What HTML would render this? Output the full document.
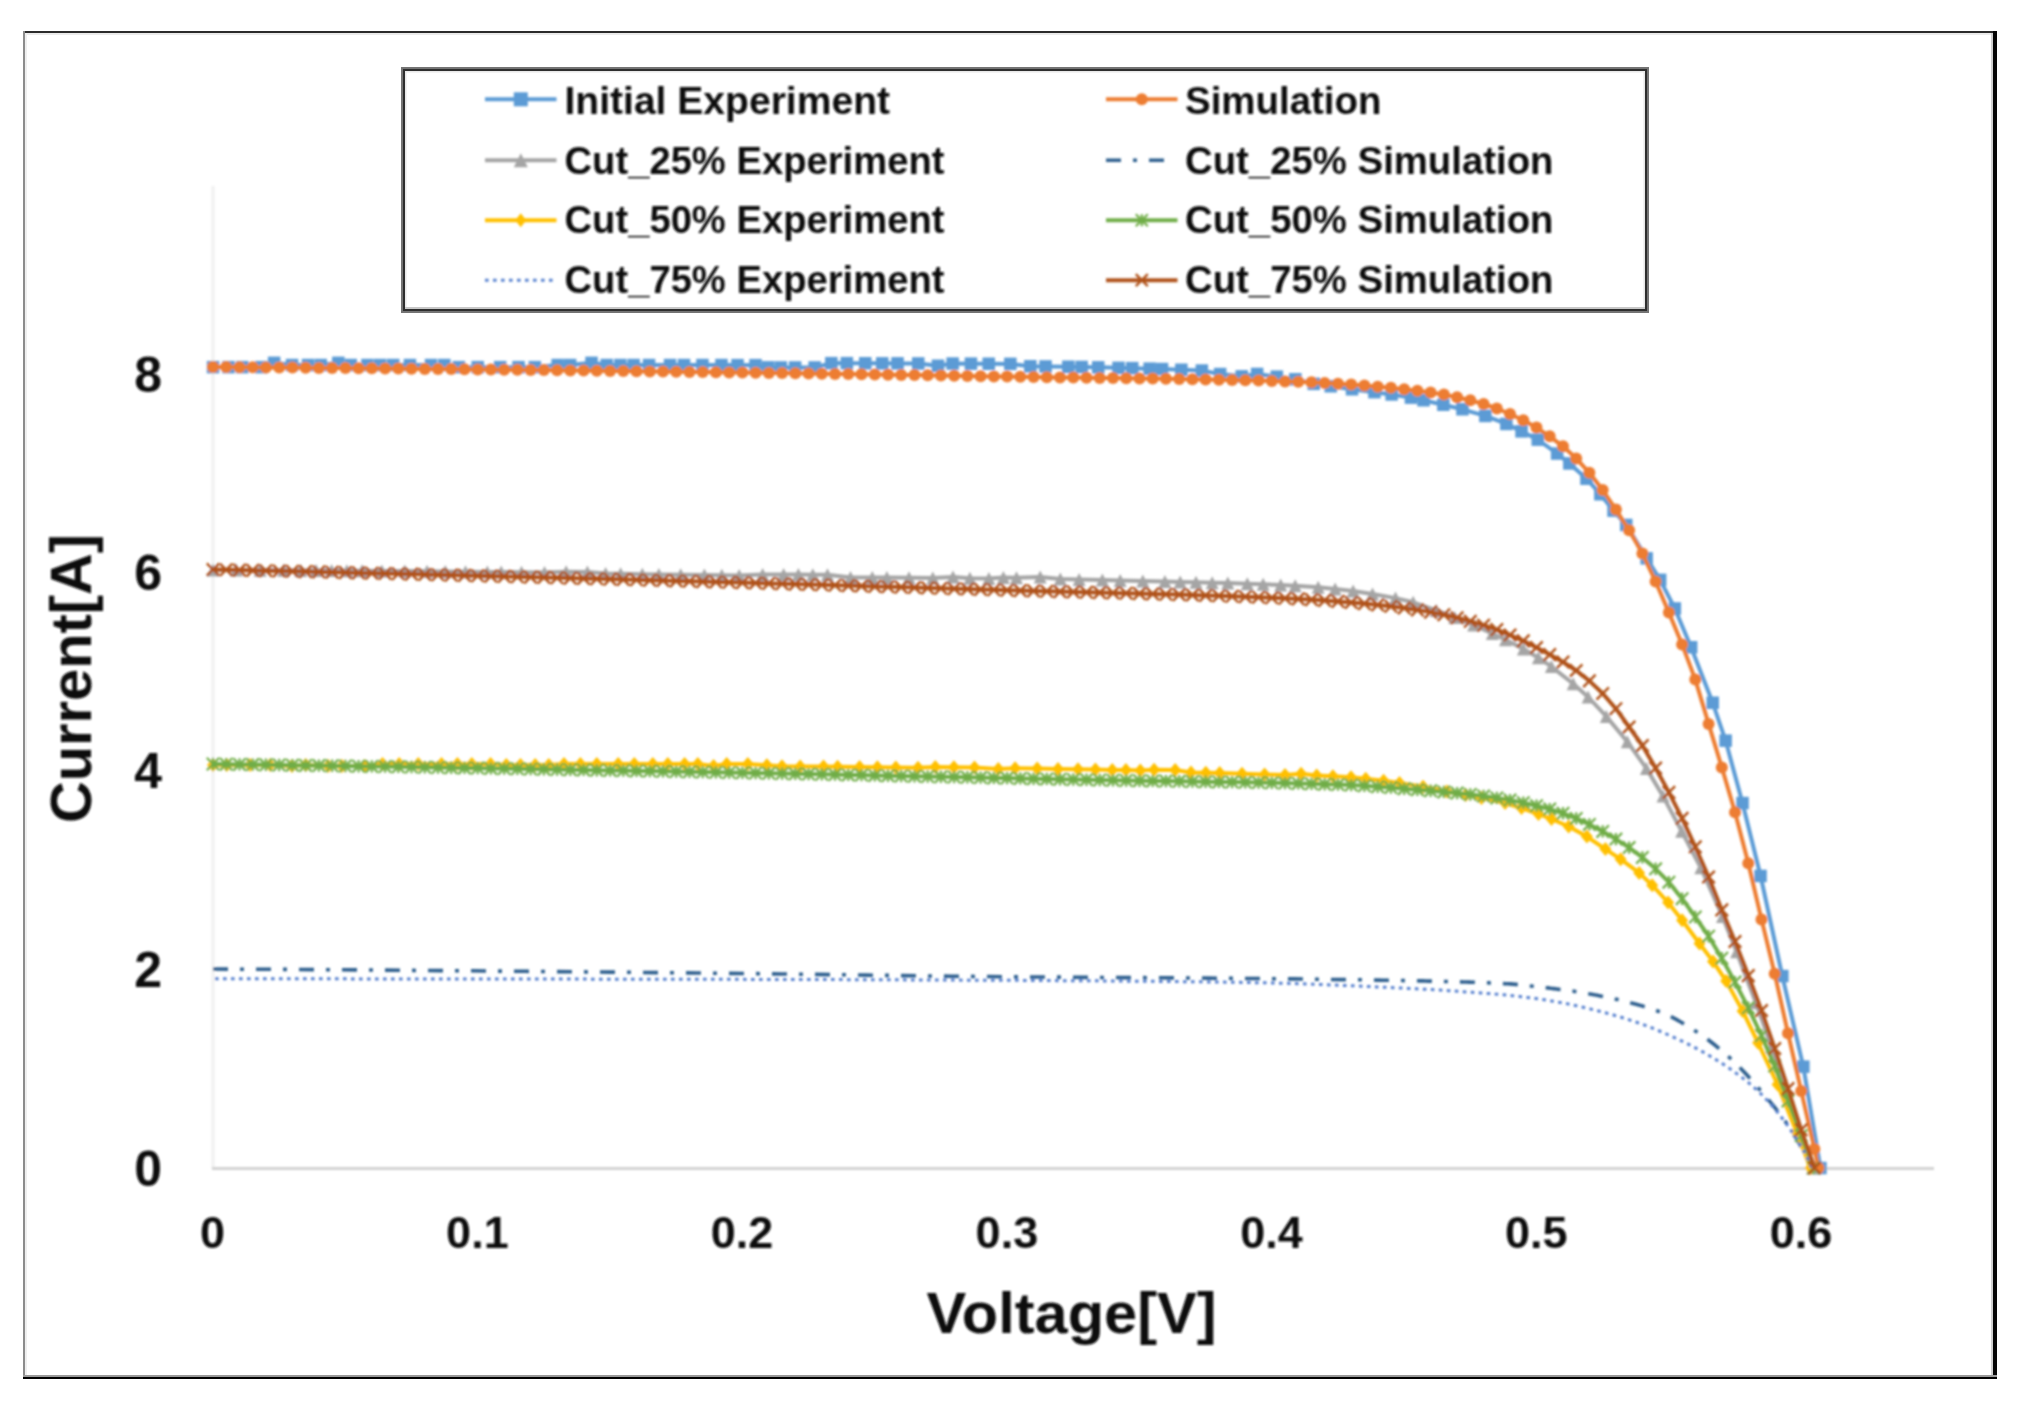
<!DOCTYPE html>
<html lang="en"><head><meta charset="utf-8"><title>I-V curves</title>
<style>html,body{margin:0;padding:0;background:#fff}svg{display:block}</style></head>
<body>
<svg width="2026" height="1408" viewBox="0 0 2026 1408">
<rect width="2026" height="1408" fill="#fff"/>
<defs><filter id="soft" x="0" y="0" width="2026" height="1408" filterUnits="userSpaceOnUse"><feGaussianBlur stdDeviation="0.8"/></filter></defs>
<g shape-rendering="crispEdges">
<rect x="23" y="31" width="1974" height="2" fill="#2b2b2b"/>
<rect x="25" y="33" width="1968" height="2" fill="#ebebeb"/>
<rect x="23" y="31" width="2" height="1348" fill="#8c8c8c"/>
<rect x="25" y="33" width="2" height="1342" fill="#efefef"/>
<rect x="1991" y="33" width="2" height="1342" fill="#d0d0d0"/>
<rect x="1993" y="31" width="4" height="1348" fill="#050505"/>
<rect x="23" y="1375" width="1974" height="2" fill="#9a9a9a"/>
<rect x="23" y="1377" width="1974" height="2" fill="#000"/>
</g>
<g filter="url(#soft)">
<rect x="211.5" y="186" width="3" height="983" fill="#f0f0f0"/>
<rect x="212" y="1167" width="1722" height="3" fill="#d2d2d2"/>
<path d="M213 367.2 L228.6 367.2 L242.2 367.2 L261.4 367.2 L274.2 362.8 L292.1 365 L308.1 365 L320.7 365 L338.3 362.8 L350.7 365 L367.5 365 L380.3 365 L393.3 365 L409.9 365 L431 365 L444.4 365 L458.8 367.2 L477.7 367.2 L500.2 367.2 L518.5 367.2 L534.9 367.2 L557.6 365 L570.1 365 L591.6 362.8 L606.8 365 L620.4 365 L633.6 365 L649 365 L670 365 L684 365 L702.4 365.1 L721.4 365.1 L737.5 365.1 L755.6 365.2 L768.2 367.4 L780.9 367.4 L795.2 367.4 L814.6 367.5 L831.4 363.1 L846.8 363.2 L865.3 363.2 L882.2 363.3 L897.5 363.4 L918.3 363.4 L938 365.7 L952.6 363.6 L971 363.7 L988.7 363.7 L1010.4 363.9 L1030.4 366.2 L1045.6 366.4 L1068.3 366.7 L1081.6 367 L1098.2 367.3 L1118.6 367.8 L1132.2 368.2 L1149.6 368.7 L1162 369.1 L1181.4 369.8 L1201.8 370.6 L1220.1 374 L1241.7 376.3 L1257.2 373.9 L1276.8 376.7 L1295.4 379.2 L1313.8 383.8 L1330.8 386.3 L1352 389.3 L1374.4 392.2 L1391.6 394.5 L1410.9 397.6 L1423.6 400.3 L1443.3 404.8 L1462.4 409.3 L1485.4 415.9 L1506.4 423.9 L1521.5 431.3 L1537.8 439.6 L1557.1 453.5 L1569.4 463.5 L1586.5 478.7 L1600.3 494.2 L1613.6 510.7 L1626.2 524.9 L1646.7 558.4 L1660.1 579.8 L1674.8 608.4 L1691.1 647.2 L1712.7 702.8 L1725.6 740.6 L1742.5 803.1 L1760.6 876 L1782.3 976 L1803.3 1066.6 L1820.5 1168" fill="none" stroke="#5B9BD5" stroke-width="4" stroke-linejoin="round"/>
<rect x="206.8" y="360.9" width="12.5" height="12.5" fill="#5B9BD5"/><rect x="222.3" y="360.9" width="12.5" height="12.5" fill="#5B9BD5"/><rect x="236" y="360.9" width="12.5" height="12.5" fill="#5B9BD5"/><rect x="255.1" y="360.9" width="12.5" height="12.5" fill="#5B9BD5"/><rect x="267.9" y="356.6" width="12.5" height="12.5" fill="#5B9BD5"/><rect x="285.8" y="358.8" width="12.5" height="12.5" fill="#5B9BD5"/><rect x="301.8" y="358.8" width="12.5" height="12.5" fill="#5B9BD5"/><rect x="314.5" y="358.8" width="12.5" height="12.5" fill="#5B9BD5"/><rect x="332.1" y="356.6" width="12.5" height="12.5" fill="#5B9BD5"/><rect x="344.5" y="358.8" width="12.5" height="12.5" fill="#5B9BD5"/><rect x="361.2" y="358.8" width="12.5" height="12.5" fill="#5B9BD5"/><rect x="374" y="358.8" width="12.5" height="12.5" fill="#5B9BD5"/><rect x="387" y="358.8" width="12.5" height="12.5" fill="#5B9BD5"/><rect x="403.7" y="358.8" width="12.5" height="12.5" fill="#5B9BD5"/><rect x="424.8" y="358.8" width="12.5" height="12.5" fill="#5B9BD5"/><rect x="438.1" y="358.8" width="12.5" height="12.5" fill="#5B9BD5"/><rect x="452.6" y="360.9" width="12.5" height="12.5" fill="#5B9BD5"/><rect x="471.5" y="360.9" width="12.5" height="12.5" fill="#5B9BD5"/><rect x="493.9" y="360.9" width="12.5" height="12.5" fill="#5B9BD5"/><rect x="512.3" y="360.9" width="12.5" height="12.5" fill="#5B9BD5"/><rect x="528.6" y="360.9" width="12.5" height="12.5" fill="#5B9BD5"/><rect x="551.4" y="358.8" width="12.5" height="12.5" fill="#5B9BD5"/><rect x="563.9" y="358.8" width="12.5" height="12.5" fill="#5B9BD5"/><rect x="585.3" y="356.6" width="12.5" height="12.5" fill="#5B9BD5"/><rect x="600.5" y="358.8" width="12.5" height="12.5" fill="#5B9BD5"/><rect x="614.1" y="358.8" width="12.5" height="12.5" fill="#5B9BD5"/><rect x="627.4" y="358.8" width="12.5" height="12.5" fill="#5B9BD5"/><rect x="642.8" y="358.8" width="12.5" height="12.5" fill="#5B9BD5"/><rect x="663.8" y="358.8" width="12.5" height="12.5" fill="#5B9BD5"/><rect x="677.8" y="358.8" width="12.5" height="12.5" fill="#5B9BD5"/><rect x="696.2" y="358.8" width="12.5" height="12.5" fill="#5B9BD5"/><rect x="715.2" y="358.8" width="12.5" height="12.5" fill="#5B9BD5"/><rect x="731.3" y="358.9" width="12.5" height="12.5" fill="#5B9BD5"/><rect x="749.3" y="358.9" width="12.5" height="12.5" fill="#5B9BD5"/><rect x="762" y="361.1" width="12.5" height="12.5" fill="#5B9BD5"/><rect x="774.6" y="361.2" width="12.5" height="12.5" fill="#5B9BD5"/><rect x="788.9" y="361.2" width="12.5" height="12.5" fill="#5B9BD5"/><rect x="808.4" y="361.2" width="12.5" height="12.5" fill="#5B9BD5"/><rect x="825.1" y="356.9" width="12.5" height="12.5" fill="#5B9BD5"/><rect x="840.6" y="356.9" width="12.5" height="12.5" fill="#5B9BD5"/><rect x="859" y="357" width="12.5" height="12.5" fill="#5B9BD5"/><rect x="876" y="357.1" width="12.5" height="12.5" fill="#5B9BD5"/><rect x="891.3" y="357.1" width="12.5" height="12.5" fill="#5B9BD5"/><rect x="912" y="357.2" width="12.5" height="12.5" fill="#5B9BD5"/><rect x="931.7" y="359.5" width="12.5" height="12.5" fill="#5B9BD5"/><rect x="946.4" y="357.3" width="12.5" height="12.5" fill="#5B9BD5"/><rect x="964.7" y="357.4" width="12.5" height="12.5" fill="#5B9BD5"/><rect x="982.5" y="357.5" width="12.5" height="12.5" fill="#5B9BD5"/><rect x="1004.1" y="357.6" width="12.5" height="12.5" fill="#5B9BD5"/><rect x="1024.1" y="360" width="12.5" height="12.5" fill="#5B9BD5"/><rect x="1039.3" y="360.2" width="12.5" height="12.5" fill="#5B9BD5"/><rect x="1062.1" y="360.5" width="12.5" height="12.5" fill="#5B9BD5"/><rect x="1075.4" y="360.7" width="12.5" height="12.5" fill="#5B9BD5"/><rect x="1092" y="361.1" width="12.5" height="12.5" fill="#5B9BD5"/><rect x="1112.3" y="361.6" width="12.5" height="12.5" fill="#5B9BD5"/><rect x="1126" y="361.9" width="12.5" height="12.5" fill="#5B9BD5"/><rect x="1143.4" y="362.4" width="12.5" height="12.5" fill="#5B9BD5"/><rect x="1155.8" y="362.8" width="12.5" height="12.5" fill="#5B9BD5"/><rect x="1175.1" y="363.5" width="12.5" height="12.5" fill="#5B9BD5"/><rect x="1195.6" y="364.3" width="12.5" height="12.5" fill="#5B9BD5"/><rect x="1213.9" y="367.8" width="12.5" height="12.5" fill="#5B9BD5"/><rect x="1235.5" y="370.1" width="12.5" height="12.5" fill="#5B9BD5"/><rect x="1250.9" y="367.7" width="12.5" height="12.5" fill="#5B9BD5"/><rect x="1270.6" y="370.4" width="12.5" height="12.5" fill="#5B9BD5"/><rect x="1289.1" y="373" width="12.5" height="12.5" fill="#5B9BD5"/><rect x="1307.5" y="377.6" width="12.5" height="12.5" fill="#5B9BD5"/><rect x="1324.5" y="380" width="12.5" height="12.5" fill="#5B9BD5"/><rect x="1345.8" y="383" width="12.5" height="12.5" fill="#5B9BD5"/><rect x="1368.2" y="385.9" width="12.5" height="12.5" fill="#5B9BD5"/><rect x="1385.4" y="388.2" width="12.5" height="12.5" fill="#5B9BD5"/><rect x="1404.7" y="391.4" width="12.5" height="12.5" fill="#5B9BD5"/><rect x="1417.3" y="394" width="12.5" height="12.5" fill="#5B9BD5"/><rect x="1437.1" y="398.5" width="12.5" height="12.5" fill="#5B9BD5"/><rect x="1456.2" y="403" width="12.5" height="12.5" fill="#5B9BD5"/><rect x="1479.1" y="409.7" width="12.5" height="12.5" fill="#5B9BD5"/><rect x="1500.1" y="417.7" width="12.5" height="12.5" fill="#5B9BD5"/><rect x="1515.3" y="425.1" width="12.5" height="12.5" fill="#5B9BD5"/><rect x="1531.5" y="433.4" width="12.5" height="12.5" fill="#5B9BD5"/><rect x="1550.9" y="447.3" width="12.5" height="12.5" fill="#5B9BD5"/><rect x="1563.1" y="457.2" width="12.5" height="12.5" fill="#5B9BD5"/><rect x="1580.2" y="472.5" width="12.5" height="12.5" fill="#5B9BD5"/><rect x="1594.1" y="488" width="12.5" height="12.5" fill="#5B9BD5"/><rect x="1607.3" y="504.4" width="12.5" height="12.5" fill="#5B9BD5"/><rect x="1620" y="518.7" width="12.5" height="12.5" fill="#5B9BD5"/><rect x="1640.4" y="552.1" width="12.5" height="12.5" fill="#5B9BD5"/><rect x="1653.9" y="573.6" width="12.5" height="12.5" fill="#5B9BD5"/><rect x="1668.6" y="602.2" width="12.5" height="12.5" fill="#5B9BD5"/><rect x="1684.9" y="641" width="12.5" height="12.5" fill="#5B9BD5"/><rect x="1706.5" y="696.5" width="12.5" height="12.5" fill="#5B9BD5"/><rect x="1719.4" y="734.4" width="12.5" height="12.5" fill="#5B9BD5"/><rect x="1736.3" y="796.8" width="12.5" height="12.5" fill="#5B9BD5"/><rect x="1754.3" y="869.7" width="12.5" height="12.5" fill="#5B9BD5"/><rect x="1776.1" y="969.8" width="12.5" height="12.5" fill="#5B9BD5"/><rect x="1797.1" y="1060.4" width="12.5" height="12.5" fill="#5B9BD5"/><rect x="1814.2" y="1161.8" width="12.5" height="12.5" fill="#5B9BD5"/>
<path d="M213 367 L226.2 367.1 L239.5 367.2 L252.7 367.3 L265.9 367.4 L279.2 367.5 L292.4 367.6 L305.6 367.7 L318.9 367.9 L332.1 368 L345.4 368.1 L358.6 368.2 L371.8 368.3 L385.1 368.5 L398.3 368.6 L411.5 368.7 L424.8 368.9 L438 369 L451.2 369.1 L464.5 369.3 L477.7 369.4 L490.9 369.6 L504.2 369.7 L517.4 369.8 L530.6 370 L543.9 370.1 L557.1 370.3 L570.3 370.4 L583.6 370.6 L596.8 370.8 L610.1 370.9 L623.3 371.1 L636.5 371.2 L649.8 371.4 L663 371.5 L676.2 371.7 L689.5 371.9 L702.7 372 L715.9 372.2 L729.2 372.4 L742.4 372.5 L755.6 372.7 L768.9 372.9 L782.1 373.1 L795.3 373.3 L808.6 373.5 L821.8 373.7 L835 373.9 L848.3 374.1 L861.5 374.3 L874.8 374.5 L888 374.7 L901.2 374.9 L914.5 375.1 L927.7 375.3 L940.9 375.5 L954.2 375.8 L967.4 376 L980.6 376.2 L993.9 376.4 L1007.1 376.6 L1020.3 376.8 L1033.6 377 L1046.8 377.2 L1060 377.4 L1073.3 377.6 L1086.5 377.7 L1099.7 377.9 L1113 378.1 L1126.2 378.3 L1139.5 378.4 L1152.7 378.6 L1165.9 378.8 L1179.2 379 L1192.4 379.3 L1205.6 379.5 L1218.9 379.8 L1232.1 380 L1245.3 380.3 L1258.6 380.6 L1271.8 381 L1285 381.4 L1298.3 381.7 L1311.5 382.2 L1324.7 382.9 L1338 383.7 L1351.2 384.6 L1364.4 385.6 L1377.7 386.7 L1390.9 387.8 L1404.2 389.2 L1417.4 390.7 L1430.6 392.6 L1443.9 394.6 L1457.1 397.2 L1470.3 400.3 L1483.6 404 L1496.8 408.5 L1510 414 L1523.3 420.3 L1536.5 427.6 L1549.7 436.3 L1563 446.3 L1576.2 458.4 L1589.4 472.8 L1602.7 490 L1615.9 509.6 L1629.1 530.3 L1642.4 553.6 L1655.6 581.5 L1668.9 612.6 L1682.1 644.4 L1695.3 679.6 L1708.6 723.9 L1721.8 767.4 L1735 812.3 L1748.3 863.2 L1761.5 919.4 L1774.7 973.8 L1788 1033.2 L1801.2 1090.9 L1814.4 1148.9 L1818.5 1168" fill="none" stroke="#ED7D31" stroke-width="4" stroke-linejoin="round"/>
<circle cx="213" cy="367" r="6" fill="#ED7D31"/><circle cx="226.2" cy="367.1" r="6" fill="#ED7D31"/><circle cx="239.5" cy="367.2" r="6" fill="#ED7D31"/><circle cx="252.7" cy="367.3" r="6" fill="#ED7D31"/><circle cx="265.9" cy="367.4" r="6" fill="#ED7D31"/><circle cx="279.2" cy="367.5" r="6" fill="#ED7D31"/><circle cx="292.4" cy="367.6" r="6" fill="#ED7D31"/><circle cx="305.6" cy="367.7" r="6" fill="#ED7D31"/><circle cx="318.9" cy="367.9" r="6" fill="#ED7D31"/><circle cx="332.1" cy="368" r="6" fill="#ED7D31"/><circle cx="345.4" cy="368.1" r="6" fill="#ED7D31"/><circle cx="358.6" cy="368.2" r="6" fill="#ED7D31"/><circle cx="371.8" cy="368.3" r="6" fill="#ED7D31"/><circle cx="385.1" cy="368.5" r="6" fill="#ED7D31"/><circle cx="398.3" cy="368.6" r="6" fill="#ED7D31"/><circle cx="411.5" cy="368.7" r="6" fill="#ED7D31"/><circle cx="424.8" cy="368.9" r="6" fill="#ED7D31"/><circle cx="438" cy="369" r="6" fill="#ED7D31"/><circle cx="451.2" cy="369.1" r="6" fill="#ED7D31"/><circle cx="464.5" cy="369.3" r="6" fill="#ED7D31"/><circle cx="477.7" cy="369.4" r="6" fill="#ED7D31"/><circle cx="490.9" cy="369.6" r="6" fill="#ED7D31"/><circle cx="504.2" cy="369.7" r="6" fill="#ED7D31"/><circle cx="517.4" cy="369.8" r="6" fill="#ED7D31"/><circle cx="530.6" cy="370" r="6" fill="#ED7D31"/><circle cx="543.9" cy="370.1" r="6" fill="#ED7D31"/><circle cx="557.1" cy="370.3" r="6" fill="#ED7D31"/><circle cx="570.3" cy="370.4" r="6" fill="#ED7D31"/><circle cx="583.6" cy="370.6" r="6" fill="#ED7D31"/><circle cx="596.8" cy="370.8" r="6" fill="#ED7D31"/><circle cx="610.1" cy="370.9" r="6" fill="#ED7D31"/><circle cx="623.3" cy="371.1" r="6" fill="#ED7D31"/><circle cx="636.5" cy="371.2" r="6" fill="#ED7D31"/><circle cx="649.8" cy="371.4" r="6" fill="#ED7D31"/><circle cx="663" cy="371.5" r="6" fill="#ED7D31"/><circle cx="676.2" cy="371.7" r="6" fill="#ED7D31"/><circle cx="689.5" cy="371.9" r="6" fill="#ED7D31"/><circle cx="702.7" cy="372" r="6" fill="#ED7D31"/><circle cx="715.9" cy="372.2" r="6" fill="#ED7D31"/><circle cx="729.2" cy="372.4" r="6" fill="#ED7D31"/><circle cx="742.4" cy="372.5" r="6" fill="#ED7D31"/><circle cx="755.6" cy="372.7" r="6" fill="#ED7D31"/><circle cx="768.9" cy="372.9" r="6" fill="#ED7D31"/><circle cx="782.1" cy="373.1" r="6" fill="#ED7D31"/><circle cx="795.3" cy="373.3" r="6" fill="#ED7D31"/><circle cx="808.6" cy="373.5" r="6" fill="#ED7D31"/><circle cx="821.8" cy="373.7" r="6" fill="#ED7D31"/><circle cx="835" cy="373.9" r="6" fill="#ED7D31"/><circle cx="848.3" cy="374.1" r="6" fill="#ED7D31"/><circle cx="861.5" cy="374.3" r="6" fill="#ED7D31"/><circle cx="874.8" cy="374.5" r="6" fill="#ED7D31"/><circle cx="888" cy="374.7" r="6" fill="#ED7D31"/><circle cx="901.2" cy="374.9" r="6" fill="#ED7D31"/><circle cx="914.5" cy="375.1" r="6" fill="#ED7D31"/><circle cx="927.7" cy="375.3" r="6" fill="#ED7D31"/><circle cx="940.9" cy="375.5" r="6" fill="#ED7D31"/><circle cx="954.2" cy="375.8" r="6" fill="#ED7D31"/><circle cx="967.4" cy="376" r="6" fill="#ED7D31"/><circle cx="980.6" cy="376.2" r="6" fill="#ED7D31"/><circle cx="993.9" cy="376.4" r="6" fill="#ED7D31"/><circle cx="1007.1" cy="376.6" r="6" fill="#ED7D31"/><circle cx="1020.3" cy="376.8" r="6" fill="#ED7D31"/><circle cx="1033.6" cy="377" r="6" fill="#ED7D31"/><circle cx="1046.8" cy="377.2" r="6" fill="#ED7D31"/><circle cx="1060" cy="377.4" r="6" fill="#ED7D31"/><circle cx="1073.3" cy="377.6" r="6" fill="#ED7D31"/><circle cx="1086.5" cy="377.7" r="6" fill="#ED7D31"/><circle cx="1099.7" cy="377.9" r="6" fill="#ED7D31"/><circle cx="1113" cy="378.1" r="6" fill="#ED7D31"/><circle cx="1126.2" cy="378.3" r="6" fill="#ED7D31"/><circle cx="1139.5" cy="378.4" r="6" fill="#ED7D31"/><circle cx="1152.7" cy="378.6" r="6" fill="#ED7D31"/><circle cx="1165.9" cy="378.8" r="6" fill="#ED7D31"/><circle cx="1179.2" cy="379" r="6" fill="#ED7D31"/><circle cx="1192.4" cy="379.3" r="6" fill="#ED7D31"/><circle cx="1205.6" cy="379.5" r="6" fill="#ED7D31"/><circle cx="1218.9" cy="379.8" r="6" fill="#ED7D31"/><circle cx="1232.1" cy="380" r="6" fill="#ED7D31"/><circle cx="1245.3" cy="380.3" r="6" fill="#ED7D31"/><circle cx="1258.6" cy="380.6" r="6" fill="#ED7D31"/><circle cx="1271.8" cy="381" r="6" fill="#ED7D31"/><circle cx="1285" cy="381.4" r="6" fill="#ED7D31"/><circle cx="1298.3" cy="381.7" r="6" fill="#ED7D31"/><circle cx="1311.5" cy="382.2" r="6" fill="#ED7D31"/><circle cx="1324.7" cy="382.9" r="6" fill="#ED7D31"/><circle cx="1338" cy="383.7" r="6" fill="#ED7D31"/><circle cx="1351.2" cy="384.6" r="6" fill="#ED7D31"/><circle cx="1364.4" cy="385.6" r="6" fill="#ED7D31"/><circle cx="1377.7" cy="386.7" r="6" fill="#ED7D31"/><circle cx="1390.9" cy="387.8" r="6" fill="#ED7D31"/><circle cx="1404.2" cy="389.2" r="6" fill="#ED7D31"/><circle cx="1417.4" cy="390.7" r="6" fill="#ED7D31"/><circle cx="1430.6" cy="392.6" r="6" fill="#ED7D31"/><circle cx="1443.9" cy="394.6" r="6" fill="#ED7D31"/><circle cx="1457.1" cy="397.2" r="6" fill="#ED7D31"/><circle cx="1470.3" cy="400.3" r="6" fill="#ED7D31"/><circle cx="1483.6" cy="404" r="6" fill="#ED7D31"/><circle cx="1496.8" cy="408.5" r="6" fill="#ED7D31"/><circle cx="1510" cy="414" r="6" fill="#ED7D31"/><circle cx="1523.3" cy="420.3" r="6" fill="#ED7D31"/><circle cx="1536.5" cy="427.6" r="6" fill="#ED7D31"/><circle cx="1549.7" cy="436.3" r="6" fill="#ED7D31"/><circle cx="1563" cy="446.3" r="6" fill="#ED7D31"/><circle cx="1576.2" cy="458.4" r="6" fill="#ED7D31"/><circle cx="1589.4" cy="472.8" r="6" fill="#ED7D31"/><circle cx="1602.7" cy="490" r="6" fill="#ED7D31"/><circle cx="1615.9" cy="509.6" r="6" fill="#ED7D31"/><circle cx="1629.1" cy="530.3" r="6" fill="#ED7D31"/><circle cx="1642.4" cy="553.6" r="6" fill="#ED7D31"/><circle cx="1655.6" cy="581.5" r="6" fill="#ED7D31"/><circle cx="1668.9" cy="612.6" r="6" fill="#ED7D31"/><circle cx="1682.1" cy="644.4" r="6" fill="#ED7D31"/><circle cx="1695.3" cy="679.6" r="6" fill="#ED7D31"/><circle cx="1708.6" cy="723.9" r="6" fill="#ED7D31"/><circle cx="1721.8" cy="767.4" r="6" fill="#ED7D31"/><circle cx="1735" cy="812.3" r="6" fill="#ED7D31"/><circle cx="1748.3" cy="863.2" r="6" fill="#ED7D31"/><circle cx="1761.5" cy="919.4" r="6" fill="#ED7D31"/><circle cx="1774.7" cy="973.8" r="6" fill="#ED7D31"/><circle cx="1788" cy="1033.2" r="6" fill="#ED7D31"/><circle cx="1801.2" cy="1090.9" r="6" fill="#ED7D31"/><circle cx="1814.4" cy="1148.9" r="6" fill="#ED7D31"/><circle cx="1818.5" cy="1168" r="6" fill="#ED7D31"/>
<path d="M213 570 L236.3 570.1 L260.2 570.2 L283.7 570.3 L300.7 570.4 L316.1 570.5 L331.6 570.6 L346.8 570.7 L362 570.8 L381.9 570.9 L404.8 571.1 L427 571.3 L445.3 571.5 L465.5 571.7 L487.3 571.9 L501.2 572 L521.5 572.2 L544.5 572.6 L566.1 571.7 L587.4 572.1 L605.6 573.6 L620.6 573.8 L642.3 574.2 L658.9 574.5 L680.7 574.8 L704.4 575 L721.8 575.2 L739.2 575.4 L762.6 574.4 L783.6 574.5 L798.4 574.6 L812.8 574.7 L827.5 574.8 L850.5 577.4 L872.3 577.5 L886.9 577.6 L909 577.8 L932.8 578 L953 576.9 L969.9 578.3 L988.9 578.6 L1003.4 577.5 L1016.5 577.8 L1040.2 577.1 L1060.3 578.9 L1079.1 579.4 L1102.4 580.1 L1120.2 580.5 L1142.8 581 L1164.9 581.5 L1180.2 581.9 L1196 582.3 L1212.2 582.7 L1227.8 583.1 L1247.3 583.7 L1263.1 584.3 L1280.7 585.1 L1295.2 585.8 L1318.2 587.2 L1335.1 588.9 L1353.1 591.1 L1372.5 594 L1395.5 598.1 L1413.1 602.3 L1436.2 610.5 L1454.7 617.4 L1473.6 625.1 L1492.3 633.5 L1505.5 639.8 L1523.4 648.9 L1538.4 657.7 L1551.4 666.6 L1573.2 683.8 L1588.1 697 L1606.3 716.4 L1627.3 741.7 L1646.4 768.4 L1663 796.1 L1681.7 831.2 L1700.8 867.7 L1722.5 916.5 L1736.6 951.8 L1755.8 1002.7 L1771.5 1046.8 L1787.6 1095.3 L1812.5 1168" fill="none" stroke="#A5A5A5" stroke-width="4" stroke-linejoin="round"/>
<path d="M213 563.5L219.5 576.5L206.5 576.5Z" fill="#A5A5A5"/><path d="M236.3 563.6L242.8 576.6L229.8 576.6Z" fill="#A5A5A5"/><path d="M260.2 563.7L266.7 576.7L253.7 576.7Z" fill="#A5A5A5"/><path d="M283.7 563.8L290.2 576.8L277.2 576.8Z" fill="#A5A5A5"/><path d="M300.7 563.9L307.2 576.9L294.2 576.9Z" fill="#A5A5A5"/><path d="M316.1 564L322.6 577L309.6 577Z" fill="#A5A5A5"/><path d="M331.6 564.1L338.1 577.1L325.1 577.1Z" fill="#A5A5A5"/><path d="M346.8 564.2L353.3 577.2L340.3 577.2Z" fill="#A5A5A5"/><path d="M362 564.3L368.5 577.3L355.5 577.3Z" fill="#A5A5A5"/><path d="M381.9 564.4L388.4 577.4L375.4 577.4Z" fill="#A5A5A5"/><path d="M404.8 564.6L411.3 577.6L398.3 577.6Z" fill="#A5A5A5"/><path d="M427 564.8L433.5 577.8L420.5 577.8Z" fill="#A5A5A5"/><path d="M445.3 565L451.8 578L438.8 578Z" fill="#A5A5A5"/><path d="M465.5 565.2L472 578.2L459 578.2Z" fill="#A5A5A5"/><path d="M487.3 565.4L493.8 578.4L480.8 578.4Z" fill="#A5A5A5"/><path d="M501.2 565.5L507.7 578.5L494.7 578.5Z" fill="#A5A5A5"/><path d="M521.5 565.7L528 578.7L515 578.7Z" fill="#A5A5A5"/><path d="M544.5 566.1L551 579.1L538 579.1Z" fill="#A5A5A5"/><path d="M566.1 565.2L572.6 578.2L559.6 578.2Z" fill="#A5A5A5"/><path d="M587.4 565.6L593.9 578.6L580.9 578.6Z" fill="#A5A5A5"/><path d="M605.6 567.1L612.1 580.1L599.1 580.1Z" fill="#A5A5A5"/><path d="M620.6 567.3L627.1 580.3L614.1 580.3Z" fill="#A5A5A5"/><path d="M642.3 567.7L648.8 580.7L635.8 580.7Z" fill="#A5A5A5"/><path d="M658.9 568L665.4 581L652.4 581Z" fill="#A5A5A5"/><path d="M680.7 568.3L687.2 581.3L674.2 581.3Z" fill="#A5A5A5"/><path d="M704.4 568.5L710.9 581.5L697.9 581.5Z" fill="#A5A5A5"/><path d="M721.8 568.7L728.3 581.7L715.3 581.7Z" fill="#A5A5A5"/><path d="M739.2 568.9L745.7 581.9L732.7 581.9Z" fill="#A5A5A5"/><path d="M762.6 567.9L769.1 580.9L756.1 580.9Z" fill="#A5A5A5"/><path d="M783.6 568L790.1 581L777.1 581Z" fill="#A5A5A5"/><path d="M798.4 568.1L804.9 581.1L791.9 581.1Z" fill="#A5A5A5"/><path d="M812.8 568.2L819.3 581.2L806.3 581.2Z" fill="#A5A5A5"/><path d="M827.5 568.3L834 581.3L821 581.3Z" fill="#A5A5A5"/><path d="M850.5 570.9L857 583.9L844 583.9Z" fill="#A5A5A5"/><path d="M872.3 571L878.8 584L865.8 584Z" fill="#A5A5A5"/><path d="M886.9 571.1L893.4 584.1L880.4 584.1Z" fill="#A5A5A5"/><path d="M909 571.3L915.5 584.3L902.5 584.3Z" fill="#A5A5A5"/><path d="M932.8 571.5L939.3 584.5L926.3 584.5Z" fill="#A5A5A5"/><path d="M953 570.4L959.5 583.4L946.5 583.4Z" fill="#A5A5A5"/><path d="M969.9 571.8L976.4 584.8L963.4 584.8Z" fill="#A5A5A5"/><path d="M988.9 572.1L995.4 585.1L982.4 585.1Z" fill="#A5A5A5"/><path d="M1003.4 571L1009.9 584L996.9 584Z" fill="#A5A5A5"/><path d="M1016.5 571.3L1023 584.3L1010 584.3Z" fill="#A5A5A5"/><path d="M1040.2 570.6L1046.7 583.6L1033.7 583.6Z" fill="#A5A5A5"/><path d="M1060.3 572.4L1066.8 585.4L1053.8 585.4Z" fill="#A5A5A5"/><path d="M1079.1 572.9L1085.6 585.9L1072.6 585.9Z" fill="#A5A5A5"/><path d="M1102.4 573.6L1108.9 586.6L1095.9 586.6Z" fill="#A5A5A5"/><path d="M1120.2 574L1126.7 587L1113.7 587Z" fill="#A5A5A5"/><path d="M1142.8 574.5L1149.3 587.5L1136.3 587.5Z" fill="#A5A5A5"/><path d="M1164.9 575L1171.4 588L1158.4 588Z" fill="#A5A5A5"/><path d="M1180.2 575.4L1186.7 588.4L1173.7 588.4Z" fill="#A5A5A5"/><path d="M1196 575.8L1202.5 588.8L1189.5 588.8Z" fill="#A5A5A5"/><path d="M1212.2 576.2L1218.7 589.2L1205.7 589.2Z" fill="#A5A5A5"/><path d="M1227.8 576.6L1234.3 589.6L1221.3 589.6Z" fill="#A5A5A5"/><path d="M1247.3 577.2L1253.8 590.2L1240.8 590.2Z" fill="#A5A5A5"/><path d="M1263.1 577.8L1269.6 590.8L1256.6 590.8Z" fill="#A5A5A5"/><path d="M1280.7 578.6L1287.2 591.6L1274.2 591.6Z" fill="#A5A5A5"/><path d="M1295.2 579.3L1301.7 592.3L1288.7 592.3Z" fill="#A5A5A5"/><path d="M1318.2 580.7L1324.7 593.7L1311.7 593.7Z" fill="#A5A5A5"/><path d="M1335.1 582.4L1341.6 595.4L1328.6 595.4Z" fill="#A5A5A5"/><path d="M1353.1 584.6L1359.6 597.6L1346.6 597.6Z" fill="#A5A5A5"/><path d="M1372.5 587.5L1379 600.5L1366 600.5Z" fill="#A5A5A5"/><path d="M1395.5 591.6L1402 604.6L1389 604.6Z" fill="#A5A5A5"/><path d="M1413.1 595.8L1419.6 608.8L1406.6 608.8Z" fill="#A5A5A5"/><path d="M1436.2 604L1442.7 617L1429.7 617Z" fill="#A5A5A5"/><path d="M1454.7 610.9L1461.2 623.9L1448.2 623.9Z" fill="#A5A5A5"/><path d="M1473.6 618.6L1480.1 631.6L1467.1 631.6Z" fill="#A5A5A5"/><path d="M1492.3 627L1498.8 640L1485.8 640Z" fill="#A5A5A5"/><path d="M1505.5 633.3L1512 646.3L1499 646.3Z" fill="#A5A5A5"/><path d="M1523.4 642.4L1529.9 655.4L1516.9 655.4Z" fill="#A5A5A5"/><path d="M1538.4 651.2L1544.9 664.2L1531.9 664.2Z" fill="#A5A5A5"/><path d="M1551.4 660.1L1557.9 673.1L1544.9 673.1Z" fill="#A5A5A5"/><path d="M1573.2 677.3L1579.7 690.3L1566.7 690.3Z" fill="#A5A5A5"/><path d="M1588.1 690.5L1594.6 703.5L1581.6 703.5Z" fill="#A5A5A5"/><path d="M1606.3 709.9L1612.8 722.9L1599.8 722.9Z" fill="#A5A5A5"/><path d="M1627.3 735.2L1633.8 748.2L1620.8 748.2Z" fill="#A5A5A5"/><path d="M1646.4 761.9L1652.9 774.9L1639.9 774.9Z" fill="#A5A5A5"/><path d="M1663 789.6L1669.5 802.6L1656.5 802.6Z" fill="#A5A5A5"/><path d="M1681.7 824.7L1688.2 837.7L1675.2 837.7Z" fill="#A5A5A5"/><path d="M1700.8 861.2L1707.3 874.2L1694.3 874.2Z" fill="#A5A5A5"/><path d="M1722.5 910L1729 923L1716 923Z" fill="#A5A5A5"/><path d="M1736.6 945.3L1743.1 958.3L1730.1 958.3Z" fill="#A5A5A5"/><path d="M1755.8 996.2L1762.3 1009.2L1749.3 1009.2Z" fill="#A5A5A5"/><path d="M1771.5 1040.3L1778 1053.3L1765 1053.3Z" fill="#A5A5A5"/><path d="M1787.6 1088.8L1794.1 1101.8L1781.1 1101.8Z" fill="#A5A5A5"/><path d="M1812.5 1161.5L1819 1174.5L1806 1174.5Z" fill="#A5A5A5"/>
<path d="M213 969 L241.4 969.2 L269.9 969.3 L298.3 969.5 L326.7 969.7 L355.1 969.9 L383.6 970.1 L412 970.4 L440.4 970.6 L468.8 970.8 L497.2 971.1 L525.7 971.3 L554.1 971.6 L582.5 971.9 L611 972.1 L639.4 972.4 L667.8 972.7 L696.2 973 L724.7 973.3 L753.1 973.6 L781.5 974 L809.9 974.3 L838.4 974.7 L866.8 975.1 L895.2 975.5 L923.6 975.9 L952.1 976.2 L980.5 976.5 L1008.9 976.8 L1037.3 977 L1065.8 977.2 L1094.2 977.4 L1122.6 977.6 L1151 977.7 L1179.5 977.9 L1207.9 978.1 L1236.3 978.4 L1264.7 978.6 L1293.2 978.9 L1321.6 979.3 L1350 979.7 L1352.9 979.7 L1355.8 979.8 L1358.7 979.8 L1361.6 979.8 L1364.5 979.9 L1367.5 979.9 L1370.4 980 L1373.3 980 L1376.2 980.1 L1379.1 980.1 L1382 980.2 L1384.9 980.2 L1387.8 980.3 L1390.7 980.3 L1393.6 980.4 L1396.5 980.4 L1399.4 980.5 L1402.4 980.5 L1405.3 980.6 L1408.2 980.7 L1411.1 980.7 L1414 980.8 L1416.9 980.8 L1419.8 980.9 L1422.7 980.9 L1425.6 981 L1428.5 981.1 L1431.4 981.1 L1434.4 981.2 L1437.3 981.3 L1440.2 981.3 L1443.1 981.4 L1446 981.5 L1448.9 981.5 L1451.8 981.6 L1454.7 981.7 L1457.6 981.8 L1460.5 981.9 L1463.4 982 L1466.4 982 L1469.3 982.1 L1472.2 982.2 L1475.1 982.3 L1478 982.4 L1480.9 982.6 L1483.8 982.7 L1486.7 982.8 L1489.6 982.9 L1492.5 983 L1495.4 983.2 L1498.3 983.3 L1501.3 983.4 L1504.2 983.6 L1507.1 983.7 L1510 983.9 L1512.9 984.1 L1515.8 984.4 L1518.7 984.7 L1521.6 985 L1524.5 985.3 L1527.4 985.7 L1530.3 986 L1533.3 986.3 L1536.2 986.6 L1539.1 987 L1542 987.3 L1544.9 987.6 L1547.8 987.9 L1550.7 988.3 L1553.6 988.6 L1556.5 989 L1559.4 989.4 L1562.3 989.7 L1565.3 990.1 L1568.2 990.5 L1571.1 990.9 L1574 991.3 L1576.9 991.8 L1579.8 992.2 L1582.7 992.7 L1585.6 993.2 L1588.5 993.7 L1591.4 994.2 L1594.3 994.8 L1597.2 995.3 L1600.2 995.9 L1603.1 996.5 L1606 997.1 L1608.9 997.7 L1611.8 998.3 L1614.7 998.9 L1617.6 999.6 L1620.5 1000.3 L1623.4 1001 L1626.3 1001.7 L1629.2 1002.4 L1632.2 1003.2 L1635.1 1003.9 L1638 1004.7 L1640.9 1005.6 L1643.8 1006.4 L1646.7 1007.3 L1649.6 1008.2 L1652.5 1009.2 L1655.4 1010.2 L1658.3 1011.3 L1661.2 1012.4 L1664.2 1013.6 L1667.1 1014.9 L1670 1016.3 L1672.9 1017.7 L1675.8 1019.2 L1678.7 1020.8 L1681.6 1022.5 L1684.5 1024.2 L1687.4 1025.9 L1690.3 1027.7 L1693.2 1029.5 L1696.1 1031.4 L1699.1 1033.3 L1702 1035.3 L1704.9 1037.3 L1707.8 1039.5 L1710.7 1041.7 L1713.6 1044 L1716.5 1046.3 L1719.4 1048.8 L1722.3 1051.2 L1725.2 1053.8 L1728.1 1056.4 L1731.1 1059 L1734 1061.7 L1736.9 1064.5 L1739.8 1067.5 L1742.7 1070.5 L1745.6 1073.6 L1748.5 1076.8 L1751.4 1080 L1754.3 1083.3 L1757.2 1086.7 L1760.1 1090 L1763.1 1093.4 L1766 1096.8 L1768.9 1100.3 L1771.8 1103.8 L1774.7 1107.4 L1777.6 1111.1 L1780.5 1114.9 L1783.4 1118.8 L1786.3 1122.8 L1789.2 1127.1 L1792.1 1131.5 L1795 1136.2 L1798 1141.2 L1800.9 1146.3 L1803.8 1151.6 L1806.7 1156.9 L1809.6 1162.3 L1812.5 1168" fill="none" stroke="#2E5F8E" stroke-width="3.6" stroke-dasharray="15 12 4 12"/>
<path d="M213 765 L226.8 765 L250.1 765 L270.1 765 L291.9 766 L305.8 765 L328.3 766 L342 766 L364.5 766 L382.5 764 L399.2 764 L418.3 764 L441.5 764 L457.4 764 L471.8 764 L490.6 764 L506.3 765 L520.5 765 L535.2 765 L548.8 765 L564 764 L580.4 764 L596.8 764 L618.2 764 L634.3 764 L652.8 764 L667.8 764 L684.6 764 L697.8 764 L713.6 766 L726.7 764 L747.8 764.1 L766.9 765.2 L782 766.3 L800.2 766.4 L823.5 766.6 L837.6 766.8 L859.6 767 L877.4 767.2 L895.8 767.4 L918 767.7 L935.3 767 L953.9 767.3 L974.5 767.6 L998.3 769 L1015.1 768.2 L1037.2 768.6 L1058 769 L1078 769.3 L1095.4 769.6 L1112.3 769.9 L1125.9 770.1 L1140.3 770.4 L1154.1 769.7 L1175.2 770.1 L1191 772.4 L1205.8 772.8 L1219.7 773.1 L1242 773.7 L1264.6 774.4 L1285 775.1 L1301.1 773.8 L1316.7 775.5 L1332.9 776.2 L1351 777.3 L1365.7 778.7 L1383.6 780.8 L1399.5 782.9 L1423.1 786.8 L1446.8 791.4 L1465.8 795.1 L1481.5 797.9 L1505.1 803.1 L1521.5 808 L1538.5 814 L1551.5 819 L1568.7 826.5 L1586.9 836.6 L1605.4 849.1 L1620.6 859.2 L1639.2 872.9 L1652.2 885.2 L1668.1 902.5 L1682.1 920.2 L1699.5 943.5 L1713 961.4 L1726.2 981.1 L1742.6 1010.9 L1758.1 1042.8 L1777.6 1084.5 L1796.4 1131.6 L1810.5 1168" fill="none" stroke="#FFC000" stroke-width="4" stroke-linejoin="round"/>
<path d="M213 758L219 765L213 772L207 765Z" fill="#FFC000"/><path d="M226.8 758L232.8 765L226.8 772L220.8 765Z" fill="#FFC000"/><path d="M250.1 758L256.1 765L250.1 772L244.1 765Z" fill="#FFC000"/><path d="M270.1 758L276.1 765L270.1 772L264.1 765Z" fill="#FFC000"/><path d="M291.9 759L297.9 766L291.9 773L285.9 766Z" fill="#FFC000"/><path d="M305.8 758L311.8 765L305.8 772L299.8 765Z" fill="#FFC000"/><path d="M328.3 759L334.3 766L328.3 773L322.3 766Z" fill="#FFC000"/><path d="M342 759L348 766L342 773L336 766Z" fill="#FFC000"/><path d="M364.5 759L370.5 766L364.5 773L358.5 766Z" fill="#FFC000"/><path d="M382.5 757L388.5 764L382.5 771L376.5 764Z" fill="#FFC000"/><path d="M399.2 757L405.2 764L399.2 771L393.2 764Z" fill="#FFC000"/><path d="M418.3 757L424.3 764L418.3 771L412.3 764Z" fill="#FFC000"/><path d="M441.5 757L447.5 764L441.5 771L435.5 764Z" fill="#FFC000"/><path d="M457.4 757L463.4 764L457.4 771L451.4 764Z" fill="#FFC000"/><path d="M471.8 757L477.8 764L471.8 771L465.8 764Z" fill="#FFC000"/><path d="M490.6 757L496.6 764L490.6 771L484.6 764Z" fill="#FFC000"/><path d="M506.3 758L512.3 765L506.3 772L500.3 765Z" fill="#FFC000"/><path d="M520.5 758L526.5 765L520.5 772L514.5 765Z" fill="#FFC000"/><path d="M535.2 758L541.2 765L535.2 772L529.2 765Z" fill="#FFC000"/><path d="M548.8 758L554.8 765L548.8 772L542.8 765Z" fill="#FFC000"/><path d="M564 757L570 764L564 771L558 764Z" fill="#FFC000"/><path d="M580.4 757L586.4 764L580.4 771L574.4 764Z" fill="#FFC000"/><path d="M596.8 757L602.8 764L596.8 771L590.8 764Z" fill="#FFC000"/><path d="M618.2 757L624.2 764L618.2 771L612.2 764Z" fill="#FFC000"/><path d="M634.3 757L640.3 764L634.3 771L628.3 764Z" fill="#FFC000"/><path d="M652.8 757L658.8 764L652.8 771L646.8 764Z" fill="#FFC000"/><path d="M667.8 757L673.8 764L667.8 771L661.8 764Z" fill="#FFC000"/><path d="M684.6 757L690.6 764L684.6 771L678.6 764Z" fill="#FFC000"/><path d="M697.8 757L703.8 764L697.8 771L691.8 764Z" fill="#FFC000"/><path d="M713.6 759L719.6 766L713.6 773L707.6 766Z" fill="#FFC000"/><path d="M726.7 757L732.7 764L726.7 771L720.7 764Z" fill="#FFC000"/><path d="M747.8 757.1L753.8 764.1L747.8 771.1L741.8 764.1Z" fill="#FFC000"/><path d="M766.9 758.2L772.9 765.2L766.9 772.2L760.9 765.2Z" fill="#FFC000"/><path d="M782 759.3L788 766.3L782 773.3L776 766.3Z" fill="#FFC000"/><path d="M800.2 759.4L806.2 766.4L800.2 773.4L794.2 766.4Z" fill="#FFC000"/><path d="M823.5 759.6L829.5 766.6L823.5 773.6L817.5 766.6Z" fill="#FFC000"/><path d="M837.6 759.8L843.6 766.8L837.6 773.8L831.6 766.8Z" fill="#FFC000"/><path d="M859.6 760L865.6 767L859.6 774L853.6 767Z" fill="#FFC000"/><path d="M877.4 760.2L883.4 767.2L877.4 774.2L871.4 767.2Z" fill="#FFC000"/><path d="M895.8 760.4L901.8 767.4L895.8 774.4L889.8 767.4Z" fill="#FFC000"/><path d="M918 760.7L924 767.7L918 774.7L912 767.7Z" fill="#FFC000"/><path d="M935.3 760L941.3 767L935.3 774L929.3 767Z" fill="#FFC000"/><path d="M953.9 760.3L959.9 767.3L953.9 774.3L947.9 767.3Z" fill="#FFC000"/><path d="M974.5 760.6L980.5 767.6L974.5 774.6L968.5 767.6Z" fill="#FFC000"/><path d="M998.3 762L1004.3 769L998.3 776L992.3 769Z" fill="#FFC000"/><path d="M1015.1 761.2L1021.1 768.2L1015.1 775.2L1009.1 768.2Z" fill="#FFC000"/><path d="M1037.2 761.6L1043.2 768.6L1037.2 775.6L1031.2 768.6Z" fill="#FFC000"/><path d="M1058 762L1064 769L1058 776L1052 769Z" fill="#FFC000"/><path d="M1078 762.3L1084 769.3L1078 776.3L1072 769.3Z" fill="#FFC000"/><path d="M1095.4 762.6L1101.4 769.6L1095.4 776.6L1089.4 769.6Z" fill="#FFC000"/><path d="M1112.3 762.9L1118.3 769.9L1112.3 776.9L1106.3 769.9Z" fill="#FFC000"/><path d="M1125.9 763.1L1131.9 770.1L1125.9 777.1L1119.9 770.1Z" fill="#FFC000"/><path d="M1140.3 763.4L1146.3 770.4L1140.3 777.4L1134.3 770.4Z" fill="#FFC000"/><path d="M1154.1 762.7L1160.1 769.7L1154.1 776.7L1148.1 769.7Z" fill="#FFC000"/><path d="M1175.2 763.1L1181.2 770.1L1175.2 777.1L1169.2 770.1Z" fill="#FFC000"/><path d="M1191 765.4L1197 772.4L1191 779.4L1185 772.4Z" fill="#FFC000"/><path d="M1205.8 765.8L1211.8 772.8L1205.8 779.8L1199.8 772.8Z" fill="#FFC000"/><path d="M1219.7 766.1L1225.7 773.1L1219.7 780.1L1213.7 773.1Z" fill="#FFC000"/><path d="M1242 766.7L1248 773.7L1242 780.7L1236 773.7Z" fill="#FFC000"/><path d="M1264.6 767.4L1270.6 774.4L1264.6 781.4L1258.6 774.4Z" fill="#FFC000"/><path d="M1285 768.1L1291 775.1L1285 782.1L1279 775.1Z" fill="#FFC000"/><path d="M1301.1 766.8L1307.1 773.8L1301.1 780.8L1295.1 773.8Z" fill="#FFC000"/><path d="M1316.7 768.5L1322.7 775.5L1316.7 782.5L1310.7 775.5Z" fill="#FFC000"/><path d="M1332.9 769.2L1338.9 776.2L1332.9 783.2L1326.9 776.2Z" fill="#FFC000"/><path d="M1351 770.3L1357 777.3L1351 784.3L1345 777.3Z" fill="#FFC000"/><path d="M1365.7 771.7L1371.7 778.7L1365.7 785.7L1359.7 778.7Z" fill="#FFC000"/><path d="M1383.6 773.8L1389.6 780.8L1383.6 787.8L1377.6 780.8Z" fill="#FFC000"/><path d="M1399.5 775.9L1405.5 782.9L1399.5 789.9L1393.5 782.9Z" fill="#FFC000"/><path d="M1423.1 779.8L1429.1 786.8L1423.1 793.8L1417.1 786.8Z" fill="#FFC000"/><path d="M1446.8 784.4L1452.8 791.4L1446.8 798.4L1440.8 791.4Z" fill="#FFC000"/><path d="M1465.8 788.1L1471.8 795.1L1465.8 802.1L1459.8 795.1Z" fill="#FFC000"/><path d="M1481.5 790.9L1487.5 797.9L1481.5 804.9L1475.5 797.9Z" fill="#FFC000"/><path d="M1505.1 796.1L1511.1 803.1L1505.1 810.1L1499.1 803.1Z" fill="#FFC000"/><path d="M1521.5 801L1527.5 808L1521.5 815L1515.5 808Z" fill="#FFC000"/><path d="M1538.5 807L1544.5 814L1538.5 821L1532.5 814Z" fill="#FFC000"/><path d="M1551.5 812L1557.5 819L1551.5 826L1545.5 819Z" fill="#FFC000"/><path d="M1568.7 819.5L1574.7 826.5L1568.7 833.5L1562.7 826.5Z" fill="#FFC000"/><path d="M1586.9 829.6L1592.9 836.6L1586.9 843.6L1580.9 836.6Z" fill="#FFC000"/><path d="M1605.4 842.1L1611.4 849.1L1605.4 856.1L1599.4 849.1Z" fill="#FFC000"/><path d="M1620.6 852.2L1626.6 859.2L1620.6 866.2L1614.6 859.2Z" fill="#FFC000"/><path d="M1639.2 865.9L1645.2 872.9L1639.2 879.9L1633.2 872.9Z" fill="#FFC000"/><path d="M1652.2 878.2L1658.2 885.2L1652.2 892.2L1646.2 885.2Z" fill="#FFC000"/><path d="M1668.1 895.5L1674.1 902.5L1668.1 909.5L1662.1 902.5Z" fill="#FFC000"/><path d="M1682.1 913.2L1688.1 920.2L1682.1 927.2L1676.1 920.2Z" fill="#FFC000"/><path d="M1699.5 936.5L1705.5 943.5L1699.5 950.5L1693.5 943.5Z" fill="#FFC000"/><path d="M1713 954.4L1719 961.4L1713 968.4L1707 961.4Z" fill="#FFC000"/><path d="M1726.2 974.1L1732.2 981.1L1726.2 988.1L1720.2 981.1Z" fill="#FFC000"/><path d="M1742.6 1003.9L1748.6 1010.9L1742.6 1017.9L1736.6 1010.9Z" fill="#FFC000"/><path d="M1758.1 1035.8L1764.1 1042.8L1758.1 1049.8L1752.1 1042.8Z" fill="#FFC000"/><path d="M1777.6 1077.5L1783.6 1084.5L1777.6 1091.5L1771.6 1084.5Z" fill="#FFC000"/><path d="M1796.4 1124.6L1802.4 1131.6L1796.4 1138.6L1790.4 1131.6Z" fill="#FFC000"/><path d="M1810.5 1161L1816.5 1168L1810.5 1175L1804.5 1168Z" fill="#FFC000"/>
<path d="M213 764 L226.2 764.2 L239.5 764.4 L252.7 764.6 L265.9 764.8 L279.2 765 L292.4 765.2 L305.6 765.4 L318.9 765.6 L332.1 765.8 L345.4 766 L358.6 766.2 L371.8 766.4 L385.1 766.6 L398.3 766.8 L411.5 767 L424.8 767.3 L438 767.5 L451.2 767.7 L464.5 767.9 L477.7 768.1 L490.9 768.4 L504.2 768.6 L517.4 768.8 L530.6 769 L543.9 769.2 L557.1 769.5 L570.3 769.7 L583.6 769.9 L596.8 770.2 L610.1 770.4 L623.3 770.6 L636.5 770.9 L649.8 771.1 L663 771.3 L676.2 771.6 L689.5 771.8 L702.7 772 L715.9 772.3 L729.2 772.5 L742.4 772.8 L755.6 773 L768.9 773.3 L782.1 773.5 L795.3 773.8 L808.6 774.1 L821.8 774.3 L835 774.6 L848.3 774.9 L861.5 775.1 L874.8 775.4 L888 775.7 L901.2 776 L914.5 776.2 L927.7 776.5 L940.9 776.8 L954.2 777 L967.4 777.3 L980.6 777.6 L993.9 777.9 L1007.1 778.1 L1020.3 778.4 L1033.6 778.7 L1046.8 778.9 L1060 779.2 L1073.3 779.5 L1086.5 779.7 L1099.7 780 L1113 780.2 L1126.2 780.5 L1139.5 780.7 L1152.7 780.9 L1165.9 781.1 L1179.2 781.3 L1192.4 781.5 L1205.6 781.7 L1218.9 781.9 L1232.1 782.1 L1245.3 782.3 L1258.6 782.6 L1271.8 782.8 L1285 783.1 L1298.3 783.4 L1311.5 783.8 L1324.7 784.2 L1338 784.6 L1351.2 785.1 L1364.4 785.8 L1377.7 786.7 L1390.9 787.6 L1404.2 788.7 L1417.4 789.7 L1430.6 790.8 L1443.9 791.9 L1457.1 793.1 L1470.3 794.5 L1483.6 796 L1496.8 797.9 L1510 800.1 L1523.3 802.7 L1536.5 805.7 L1549.7 809.1 L1563 813.3 L1576.2 818.4 L1589.4 824.4 L1602.7 831.4 L1615.9 839.1 L1629.1 847.6 L1642.4 857.4 L1655.6 868.8 L1668.9 882.2 L1682.1 898.7 L1695.3 917 L1708.6 936.2 L1721.8 958.2 L1735 982.1 L1748.3 1007.8 L1761.5 1035.5 L1774.7 1066.1 L1788 1100.9 L1801.2 1135.6 L1813.5 1168" fill="none" stroke="#70AD47" stroke-width="4" stroke-linejoin="round"/>
<path d="M206.8 757.8L219.2 770.2M206.8 770.2L219.2 757.8M213 757.8L213 770.2" stroke="#70AD47" stroke-width="2.2" fill="none"/><path d="M220 758L232.4 770.4M220 770.4L232.4 758M226.2 758L226.2 770.4" stroke="#70AD47" stroke-width="2.2" fill="none"/><path d="M233.3 758.2L245.7 770.6M233.3 770.6L245.7 758.2M239.5 758.2L239.5 770.6" stroke="#70AD47" stroke-width="2.2" fill="none"/><path d="M246.5 758.4L258.9 770.8M246.5 770.8L258.9 758.4M252.7 758.4L252.7 770.8" stroke="#70AD47" stroke-width="2.2" fill="none"/><path d="M259.7 758.6L272.1 771M259.7 771L272.1 758.6M265.9 758.6L265.9 771" stroke="#70AD47" stroke-width="2.2" fill="none"/><path d="M273 758.8L285.4 771.2M273 771.2L285.4 758.8M279.2 758.8L279.2 771.2" stroke="#70AD47" stroke-width="2.2" fill="none"/><path d="M286.2 759L298.6 771.4M286.2 771.4L298.6 759M292.4 759L292.4 771.4" stroke="#70AD47" stroke-width="2.2" fill="none"/><path d="M299.4 759.2L311.8 771.6M299.4 771.6L311.8 759.2M305.6 759.2L305.6 771.6" stroke="#70AD47" stroke-width="2.2" fill="none"/><path d="M312.7 759.4L325.1 771.8M312.7 771.8L325.1 759.4M318.9 759.4L318.9 771.8" stroke="#70AD47" stroke-width="2.2" fill="none"/><path d="M325.9 759.6L338.3 772M325.9 772L338.3 759.6M332.1 759.6L332.1 772" stroke="#70AD47" stroke-width="2.2" fill="none"/><path d="M339.2 759.8L351.6 772.2M339.2 772.2L351.6 759.8M345.4 759.8L345.4 772.2" stroke="#70AD47" stroke-width="2.2" fill="none"/><path d="M352.4 760L364.8 772.4M352.4 772.4L364.8 760M358.6 760L358.6 772.4" stroke="#70AD47" stroke-width="2.2" fill="none"/><path d="M365.6 760.2L378 772.6M365.6 772.6L378 760.2M371.8 760.2L371.8 772.6" stroke="#70AD47" stroke-width="2.2" fill="none"/><path d="M378.9 760.4L391.3 772.8M378.9 772.8L391.3 760.4M385.1 760.4L385.1 772.8" stroke="#70AD47" stroke-width="2.2" fill="none"/><path d="M392.1 760.6L404.5 773M392.1 773L404.5 760.6M398.3 760.6L398.3 773" stroke="#70AD47" stroke-width="2.2" fill="none"/><path d="M405.3 760.8L417.7 773.2M405.3 773.2L417.7 760.8M411.5 760.8L411.5 773.2" stroke="#70AD47" stroke-width="2.2" fill="none"/><path d="M418.6 761.1L431 773.5M418.6 773.5L431 761.1M424.8 761.1L424.8 773.5" stroke="#70AD47" stroke-width="2.2" fill="none"/><path d="M431.8 761.3L444.2 773.7M431.8 773.7L444.2 761.3M438 761.3L438 773.7" stroke="#70AD47" stroke-width="2.2" fill="none"/><path d="M445 761.5L457.4 773.9M445 773.9L457.4 761.5M451.2 761.5L451.2 773.9" stroke="#70AD47" stroke-width="2.2" fill="none"/><path d="M458.3 761.7L470.7 774.1M458.3 774.1L470.7 761.7M464.5 761.7L464.5 774.1" stroke="#70AD47" stroke-width="2.2" fill="none"/><path d="M471.5 761.9L483.9 774.3M471.5 774.3L483.9 761.9M477.7 761.9L477.7 774.3" stroke="#70AD47" stroke-width="2.2" fill="none"/><path d="M484.7 762.2L497.1 774.6M484.7 774.6L497.1 762.2M490.9 762.2L490.9 774.6" stroke="#70AD47" stroke-width="2.2" fill="none"/><path d="M498 762.4L510.4 774.8M498 774.8L510.4 762.4M504.2 762.4L504.2 774.8" stroke="#70AD47" stroke-width="2.2" fill="none"/><path d="M511.2 762.6L523.6 775M511.2 775L523.6 762.6M517.4 762.6L517.4 775" stroke="#70AD47" stroke-width="2.2" fill="none"/><path d="M524.4 762.8L536.8 775.2M524.4 775.2L536.8 762.8M530.6 762.8L530.6 775.2" stroke="#70AD47" stroke-width="2.2" fill="none"/><path d="M537.7 763L550.1 775.4M537.7 775.4L550.1 763M543.9 763L543.9 775.4" stroke="#70AD47" stroke-width="2.2" fill="none"/><path d="M550.9 763.3L563.3 775.7M550.9 775.7L563.3 763.3M557.1 763.3L557.1 775.7" stroke="#70AD47" stroke-width="2.2" fill="none"/><path d="M564.1 763.5L576.5 775.9M564.1 775.9L576.5 763.5M570.3 763.5L570.3 775.9" stroke="#70AD47" stroke-width="2.2" fill="none"/><path d="M577.4 763.7L589.8 776.1M577.4 776.1L589.8 763.7M583.6 763.7L583.6 776.1" stroke="#70AD47" stroke-width="2.2" fill="none"/><path d="M590.6 764L603 776.4M590.6 776.4L603 764M596.8 764L596.8 776.4" stroke="#70AD47" stroke-width="2.2" fill="none"/><path d="M603.9 764.2L616.3 776.6M603.9 776.6L616.3 764.2M610.1 764.2L610.1 776.6" stroke="#70AD47" stroke-width="2.2" fill="none"/><path d="M617.1 764.4L629.5 776.8M617.1 776.8L629.5 764.4M623.3 764.4L623.3 776.8" stroke="#70AD47" stroke-width="2.2" fill="none"/><path d="M630.3 764.7L642.7 777.1M630.3 777.1L642.7 764.7M636.5 764.7L636.5 777.1" stroke="#70AD47" stroke-width="2.2" fill="none"/><path d="M643.6 764.9L656 777.3M643.6 777.3L656 764.9M649.8 764.9L649.8 777.3" stroke="#70AD47" stroke-width="2.2" fill="none"/><path d="M656.8 765.1L669.2 777.5M656.8 777.5L669.2 765.1M663 765.1L663 777.5" stroke="#70AD47" stroke-width="2.2" fill="none"/><path d="M670 765.4L682.4 777.8M670 777.8L682.4 765.4M676.2 765.4L676.2 777.8" stroke="#70AD47" stroke-width="2.2" fill="none"/><path d="M683.3 765.6L695.7 778M683.3 778L695.7 765.6M689.5 765.6L689.5 778" stroke="#70AD47" stroke-width="2.2" fill="none"/><path d="M696.5 765.8L708.9 778.2M696.5 778.2L708.9 765.8M702.7 765.8L702.7 778.2" stroke="#70AD47" stroke-width="2.2" fill="none"/><path d="M709.7 766.1L722.1 778.5M709.7 778.5L722.1 766.1M715.9 766.1L715.9 778.5" stroke="#70AD47" stroke-width="2.2" fill="none"/><path d="M723 766.3L735.4 778.7M723 778.7L735.4 766.3M729.2 766.3L729.2 778.7" stroke="#70AD47" stroke-width="2.2" fill="none"/><path d="M736.2 766.6L748.6 779M736.2 779L748.6 766.6M742.4 766.6L742.4 779" stroke="#70AD47" stroke-width="2.2" fill="none"/><path d="M749.4 766.8L761.8 779.2M749.4 779.2L761.8 766.8M755.6 766.8L755.6 779.2" stroke="#70AD47" stroke-width="2.2" fill="none"/><path d="M762.7 767.1L775.1 779.5M762.7 779.5L775.1 767.1M768.9 767.1L768.9 779.5" stroke="#70AD47" stroke-width="2.2" fill="none"/><path d="M775.9 767.3L788.3 779.7M775.9 779.7L788.3 767.3M782.1 767.3L782.1 779.7" stroke="#70AD47" stroke-width="2.2" fill="none"/><path d="M789.1 767.6L801.5 780M789.1 780L801.5 767.6M795.3 767.6L795.3 780" stroke="#70AD47" stroke-width="2.2" fill="none"/><path d="M802.4 767.9L814.8 780.3M802.4 780.3L814.8 767.9M808.6 767.9L808.6 780.3" stroke="#70AD47" stroke-width="2.2" fill="none"/><path d="M815.6 768.1L828 780.5M815.6 780.5L828 768.1M821.8 768.1L821.8 780.5" stroke="#70AD47" stroke-width="2.2" fill="none"/><path d="M828.8 768.4L841.2 780.8M828.8 780.8L841.2 768.4M835 768.4L835 780.8" stroke="#70AD47" stroke-width="2.2" fill="none"/><path d="M842.1 768.7L854.5 781.1M842.1 781.1L854.5 768.7M848.3 768.7L848.3 781.1" stroke="#70AD47" stroke-width="2.2" fill="none"/><path d="M855.3 768.9L867.7 781.3M855.3 781.3L867.7 768.9M861.5 768.9L861.5 781.3" stroke="#70AD47" stroke-width="2.2" fill="none"/><path d="M868.6 769.2L881 781.6M868.6 781.6L881 769.2M874.8 769.2L874.8 781.6" stroke="#70AD47" stroke-width="2.2" fill="none"/><path d="M881.8 769.5L894.2 781.9M881.8 781.9L894.2 769.5M888 769.5L888 781.9" stroke="#70AD47" stroke-width="2.2" fill="none"/><path d="M895 769.8L907.4 782.2M895 782.2L907.4 769.8M901.2 769.8L901.2 782.2" stroke="#70AD47" stroke-width="2.2" fill="none"/><path d="M908.3 770L920.7 782.4M908.3 782.4L920.7 770M914.5 770L914.5 782.4" stroke="#70AD47" stroke-width="2.2" fill="none"/><path d="M921.5 770.3L933.9 782.7M921.5 782.7L933.9 770.3M927.7 770.3L927.7 782.7" stroke="#70AD47" stroke-width="2.2" fill="none"/><path d="M934.7 770.6L947.1 783M934.7 783L947.1 770.6M940.9 770.6L940.9 783" stroke="#70AD47" stroke-width="2.2" fill="none"/><path d="M948 770.8L960.4 783.2M948 783.2L960.4 770.8M954.2 770.8L954.2 783.2" stroke="#70AD47" stroke-width="2.2" fill="none"/><path d="M961.2 771.1L973.6 783.5M961.2 783.5L973.6 771.1M967.4 771.1L967.4 783.5" stroke="#70AD47" stroke-width="2.2" fill="none"/><path d="M974.4 771.4L986.8 783.8M974.4 783.8L986.8 771.4M980.6 771.4L980.6 783.8" stroke="#70AD47" stroke-width="2.2" fill="none"/><path d="M987.7 771.7L1000.1 784.1M987.7 784.1L1000.1 771.7M993.9 771.7L993.9 784.1" stroke="#70AD47" stroke-width="2.2" fill="none"/><path d="M1000.9 771.9L1013.3 784.3M1000.9 784.3L1013.3 771.9M1007.1 771.9L1007.1 784.3" stroke="#70AD47" stroke-width="2.2" fill="none"/><path d="M1014.1 772.2L1026.5 784.6M1014.1 784.6L1026.5 772.2M1020.3 772.2L1020.3 784.6" stroke="#70AD47" stroke-width="2.2" fill="none"/><path d="M1027.4 772.5L1039.8 784.9M1027.4 784.9L1039.8 772.5M1033.6 772.5L1033.6 784.9" stroke="#70AD47" stroke-width="2.2" fill="none"/><path d="M1040.6 772.7L1053 785.1M1040.6 785.1L1053 772.7M1046.8 772.7L1046.8 785.1" stroke="#70AD47" stroke-width="2.2" fill="none"/><path d="M1053.8 773L1066.2 785.4M1053.8 785.4L1066.2 773M1060 773L1060 785.4" stroke="#70AD47" stroke-width="2.2" fill="none"/><path d="M1067.1 773.3L1079.5 785.7M1067.1 785.7L1079.5 773.3M1073.3 773.3L1073.3 785.7" stroke="#70AD47" stroke-width="2.2" fill="none"/><path d="M1080.3 773.5L1092.7 785.9M1080.3 785.9L1092.7 773.5M1086.5 773.5L1086.5 785.9" stroke="#70AD47" stroke-width="2.2" fill="none"/><path d="M1093.5 773.8L1105.9 786.2M1093.5 786.2L1105.9 773.8M1099.7 773.8L1099.7 786.2" stroke="#70AD47" stroke-width="2.2" fill="none"/><path d="M1106.8 774L1119.2 786.4M1106.8 786.4L1119.2 774M1113 774L1113 786.4" stroke="#70AD47" stroke-width="2.2" fill="none"/><path d="M1120 774.3L1132.4 786.7M1120 786.7L1132.4 774.3M1126.2 774.3L1126.2 786.7" stroke="#70AD47" stroke-width="2.2" fill="none"/><path d="M1133.3 774.5L1145.7 786.9M1133.3 786.9L1145.7 774.5M1139.5 774.5L1139.5 786.9" stroke="#70AD47" stroke-width="2.2" fill="none"/><path d="M1146.5 774.7L1158.9 787.1M1146.5 787.1L1158.9 774.7M1152.7 774.7L1152.7 787.1" stroke="#70AD47" stroke-width="2.2" fill="none"/><path d="M1159.7 774.9L1172.1 787.3M1159.7 787.3L1172.1 774.9M1165.9 774.9L1165.9 787.3" stroke="#70AD47" stroke-width="2.2" fill="none"/><path d="M1173 775.1L1185.4 787.5M1173 787.5L1185.4 775.1M1179.2 775.1L1179.2 787.5" stroke="#70AD47" stroke-width="2.2" fill="none"/><path d="M1186.2 775.3L1198.6 787.7M1186.2 787.7L1198.6 775.3M1192.4 775.3L1192.4 787.7" stroke="#70AD47" stroke-width="2.2" fill="none"/><path d="M1199.4 775.5L1211.8 787.9M1199.4 787.9L1211.8 775.5M1205.6 775.5L1205.6 787.9" stroke="#70AD47" stroke-width="2.2" fill="none"/><path d="M1212.7 775.7L1225.1 788.1M1212.7 788.1L1225.1 775.7M1218.9 775.7L1218.9 788.1" stroke="#70AD47" stroke-width="2.2" fill="none"/><path d="M1225.9 775.9L1238.3 788.3M1225.9 788.3L1238.3 775.9M1232.1 775.9L1232.1 788.3" stroke="#70AD47" stroke-width="2.2" fill="none"/><path d="M1239.1 776.1L1251.5 788.5M1239.1 788.5L1251.5 776.1M1245.3 776.1L1245.3 788.5" stroke="#70AD47" stroke-width="2.2" fill="none"/><path d="M1252.4 776.4L1264.8 788.8M1252.4 788.8L1264.8 776.4M1258.6 776.4L1258.6 788.8" stroke="#70AD47" stroke-width="2.2" fill="none"/><path d="M1265.6 776.6L1278 789M1265.6 789L1278 776.6M1271.8 776.6L1271.8 789" stroke="#70AD47" stroke-width="2.2" fill="none"/><path d="M1278.8 776.9L1291.2 789.3M1278.8 789.3L1291.2 776.9M1285 776.9L1285 789.3" stroke="#70AD47" stroke-width="2.2" fill="none"/><path d="M1292.1 777.2L1304.5 789.6M1292.1 789.6L1304.5 777.2M1298.3 777.2L1298.3 789.6" stroke="#70AD47" stroke-width="2.2" fill="none"/><path d="M1305.3 777.6L1317.7 790M1305.3 790L1317.7 777.6M1311.5 777.6L1311.5 790" stroke="#70AD47" stroke-width="2.2" fill="none"/><path d="M1318.5 778L1330.9 790.4M1318.5 790.4L1330.9 778M1324.7 778L1324.7 790.4" stroke="#70AD47" stroke-width="2.2" fill="none"/><path d="M1331.8 778.4L1344.2 790.8M1331.8 790.8L1344.2 778.4M1338 778.4L1338 790.8" stroke="#70AD47" stroke-width="2.2" fill="none"/><path d="M1345 778.9L1357.4 791.3M1345 791.3L1357.4 778.9M1351.2 778.9L1351.2 791.3" stroke="#70AD47" stroke-width="2.2" fill="none"/><path d="M1358.2 779.6L1370.6 792M1358.2 792L1370.6 779.6M1364.4 779.6L1364.4 792" stroke="#70AD47" stroke-width="2.2" fill="none"/><path d="M1371.5 780.5L1383.9 792.9M1371.5 792.9L1383.9 780.5M1377.7 780.5L1377.7 792.9" stroke="#70AD47" stroke-width="2.2" fill="none"/><path d="M1384.7 781.4L1397.1 793.8M1384.7 793.8L1397.1 781.4M1390.9 781.4L1390.9 793.8" stroke="#70AD47" stroke-width="2.2" fill="none"/><path d="M1398 782.5L1410.4 794.9M1398 794.9L1410.4 782.5M1404.2 782.5L1404.2 794.9" stroke="#70AD47" stroke-width="2.2" fill="none"/><path d="M1411.2 783.5L1423.6 795.9M1411.2 795.9L1423.6 783.5M1417.4 783.5L1417.4 795.9" stroke="#70AD47" stroke-width="2.2" fill="none"/><path d="M1424.4 784.6L1436.8 797M1424.4 797L1436.8 784.6M1430.6 784.6L1430.6 797" stroke="#70AD47" stroke-width="2.2" fill="none"/><path d="M1437.7 785.7L1450.1 798.1M1437.7 798.1L1450.1 785.7M1443.9 785.7L1443.9 798.1" stroke="#70AD47" stroke-width="2.2" fill="none"/><path d="M1450.9 786.9L1463.3 799.3M1450.9 799.3L1463.3 786.9M1457.1 786.9L1457.1 799.3" stroke="#70AD47" stroke-width="2.2" fill="none"/><path d="M1464.1 788.3L1476.5 800.7M1464.1 800.7L1476.5 788.3M1470.3 788.3L1470.3 800.7" stroke="#70AD47" stroke-width="2.2" fill="none"/><path d="M1477.4 789.8L1489.8 802.2M1477.4 802.2L1489.8 789.8M1483.6 789.8L1483.6 802.2" stroke="#70AD47" stroke-width="2.2" fill="none"/><path d="M1490.6 791.7L1503 804.1M1490.6 804.1L1503 791.7M1496.8 791.7L1496.8 804.1" stroke="#70AD47" stroke-width="2.2" fill="none"/><path d="M1503.8 793.9L1516.2 806.3M1503.8 806.3L1516.2 793.9M1510 793.9L1510 806.3" stroke="#70AD47" stroke-width="2.2" fill="none"/><path d="M1517.1 796.5L1529.5 808.9M1517.1 808.9L1529.5 796.5M1523.3 796.5L1523.3 808.9" stroke="#70AD47" stroke-width="2.2" fill="none"/><path d="M1530.3 799.5L1542.7 811.9M1530.3 811.9L1542.7 799.5M1536.5 799.5L1536.5 811.9" stroke="#70AD47" stroke-width="2.2" fill="none"/><path d="M1543.5 802.9L1555.9 815.3M1543.5 815.3L1555.9 802.9M1549.7 802.9L1549.7 815.3" stroke="#70AD47" stroke-width="2.2" fill="none"/><path d="M1556.8 807.1L1569.2 819.5M1556.8 819.5L1569.2 807.1M1563 807.1L1563 819.5" stroke="#70AD47" stroke-width="2.2" fill="none"/><path d="M1570 812.2L1582.4 824.6M1570 824.6L1582.4 812.2M1576.2 812.2L1576.2 824.6" stroke="#70AD47" stroke-width="2.2" fill="none"/><path d="M1583.2 818.2L1595.6 830.6M1583.2 830.6L1595.6 818.2M1589.4 818.2L1589.4 830.6" stroke="#70AD47" stroke-width="2.2" fill="none"/><path d="M1596.5 825.2L1608.9 837.6M1596.5 837.6L1608.9 825.2M1602.7 825.2L1602.7 837.6" stroke="#70AD47" stroke-width="2.2" fill="none"/><path d="M1609.7 832.9L1622.1 845.3M1609.7 845.3L1622.1 832.9M1615.9 832.9L1615.9 845.3" stroke="#70AD47" stroke-width="2.2" fill="none"/><path d="M1622.9 841.4L1635.3 853.8M1622.9 853.8L1635.3 841.4M1629.1 841.4L1629.1 853.8" stroke="#70AD47" stroke-width="2.2" fill="none"/><path d="M1636.2 851.2L1648.6 863.6M1636.2 863.6L1648.6 851.2M1642.4 851.2L1642.4 863.6" stroke="#70AD47" stroke-width="2.2" fill="none"/><path d="M1649.4 862.6L1661.8 875M1649.4 875L1661.8 862.6M1655.6 862.6L1655.6 875" stroke="#70AD47" stroke-width="2.2" fill="none"/><path d="M1662.7 876L1675.1 888.4M1662.7 888.4L1675.1 876M1668.9 876L1668.9 888.4" stroke="#70AD47" stroke-width="2.2" fill="none"/><path d="M1675.9 892.5L1688.3 904.9M1675.9 904.9L1688.3 892.5M1682.1 892.5L1682.1 904.9" stroke="#70AD47" stroke-width="2.2" fill="none"/><path d="M1689.1 910.8L1701.5 923.2M1689.1 923.2L1701.5 910.8M1695.3 910.8L1695.3 923.2" stroke="#70AD47" stroke-width="2.2" fill="none"/><path d="M1702.4 930L1714.8 942.4M1702.4 942.4L1714.8 930M1708.6 930L1708.6 942.4" stroke="#70AD47" stroke-width="2.2" fill="none"/><path d="M1715.6 952L1728 964.4M1715.6 964.4L1728 952M1721.8 952L1721.8 964.4" stroke="#70AD47" stroke-width="2.2" fill="none"/><path d="M1728.8 975.9L1741.2 988.3M1728.8 988.3L1741.2 975.9M1735 975.9L1735 988.3" stroke="#70AD47" stroke-width="2.2" fill="none"/><path d="M1742.1 1001.6L1754.5 1014M1742.1 1014L1754.5 1001.6M1748.3 1001.6L1748.3 1014" stroke="#70AD47" stroke-width="2.2" fill="none"/><path d="M1755.3 1029.3L1767.7 1041.7M1755.3 1041.7L1767.7 1029.3M1761.5 1029.3L1761.5 1041.7" stroke="#70AD47" stroke-width="2.2" fill="none"/><path d="M1768.5 1059.9L1780.9 1072.3M1768.5 1072.3L1780.9 1059.9M1774.7 1059.9L1774.7 1072.3" stroke="#70AD47" stroke-width="2.2" fill="none"/><path d="M1781.8 1094.7L1794.2 1107.1M1781.8 1107.1L1794.2 1094.7M1788 1094.7L1788 1107.1" stroke="#70AD47" stroke-width="2.2" fill="none"/><path d="M1795 1129.4L1807.4 1141.8M1795 1141.8L1807.4 1129.4M1801.2 1129.4L1801.2 1141.8" stroke="#70AD47" stroke-width="2.2" fill="none"/><path d="M1807.3 1161.8L1819.7 1174.2M1807.3 1174.2L1819.7 1161.8M1813.5 1161.8L1813.5 1174.2" stroke="#70AD47" stroke-width="2.2" fill="none"/>
<path d="M213 978.8 L241.4 978.8 L269.9 978.8 L298.3 978.8 L326.7 978.8 L355.1 978.9 L383.6 978.9 L412 978.9 L440.4 978.9 L468.8 979 L497.2 979 L525.7 979 L554.1 979.1 L582.5 979.1 L611 979.2 L639.4 979.2 L667.8 979.2 L696.2 979.3 L724.7 979.3 L753.1 979.4 L781.5 979.5 L809.9 979.6 L838.4 979.6 L866.8 979.7 L895.2 979.8 L923.6 980 L952.1 980.1 L980.5 980.2 L1008.9 980.3 L1037.3 980.5 L1065.8 980.7 L1094.2 980.8 L1122.6 981.1 L1151 981.3 L1179.5 981.6 L1207.9 981.9 L1236.3 982.3 L1264.7 982.8 L1293.2 983.5 L1321.6 984.5 L1350 985.7 L1352.9 985.8 L1355.8 985.9 L1358.7 986.1 L1361.6 986.2 L1364.5 986.3 L1367.4 986.5 L1370.3 986.6 L1373.2 986.7 L1376.1 986.9 L1379 987 L1381.9 987.1 L1384.8 987.3 L1387.7 987.4 L1390.6 987.6 L1393.5 987.7 L1396.4 987.8 L1399.3 988 L1402.2 988.1 L1405.1 988.2 L1408.1 988.4 L1411 988.5 L1413.9 988.7 L1416.8 988.8 L1419.7 989 L1422.6 989.2 L1425.5 989.3 L1428.4 989.5 L1431.3 989.6 L1434.2 989.8 L1437.1 990 L1440 990.1 L1442.9 990.3 L1445.8 990.5 L1448.7 990.7 L1451.6 990.9 L1454.5 991.1 L1457.4 991.3 L1460.3 991.5 L1463.2 991.7 L1466.1 991.9 L1469 992.1 L1471.9 992.3 L1474.8 992.5 L1477.7 992.7 L1480.6 992.9 L1483.5 993.1 L1486.4 993.4 L1489.3 993.6 L1492.2 993.8 L1495.1 994.1 L1498 994.3 L1500.9 994.6 L1503.8 994.8 L1506.7 995.1 L1509.6 995.4 L1512.5 995.7 L1515.4 996 L1518.3 996.3 L1521.2 996.7 L1524.2 997 L1527.1 997.4 L1530 997.8 L1532.9 998.1 L1535.8 998.5 L1538.7 998.9 L1541.6 999.4 L1544.5 999.8 L1547.4 1000.3 L1550.3 1000.8 L1553.2 1001.2 L1556.1 1001.7 L1559 1002.3 L1561.9 1002.8 L1564.8 1003.3 L1567.7 1003.9 L1570.6 1004.5 L1573.5 1005.1 L1576.4 1005.7 L1579.3 1006.3 L1582.2 1007 L1585.1 1007.7 L1588 1008.4 L1590.9 1009.1 L1593.8 1009.8 L1596.7 1010.5 L1599.6 1011.3 L1602.5 1012.1 L1605.4 1012.8 L1608.3 1013.6 L1611.2 1014.4 L1614.1 1015.2 L1617 1016.1 L1619.9 1016.9 L1622.8 1017.8 L1625.7 1018.7 L1628.6 1019.6 L1631.5 1020.6 L1634.4 1021.5 L1637.3 1022.5 L1640.3 1023.5 L1643.2 1024.6 L1646.1 1025.7 L1649 1026.8 L1651.9 1027.9 L1654.8 1029.1 L1657.7 1030.3 L1660.6 1031.5 L1663.5 1032.7 L1666.4 1034 L1669.3 1035.3 L1672.2 1036.6 L1675.1 1037.9 L1678 1039.2 L1680.9 1040.6 L1683.8 1042 L1686.7 1043.4 L1689.6 1044.9 L1692.5 1046.4 L1695.4 1047.9 L1698.3 1049.4 L1701.2 1051 L1704.1 1052.6 L1707 1054.3 L1709.9 1056 L1712.8 1057.7 L1715.7 1059.5 L1718.6 1061.3 L1721.5 1063.1 L1724.4 1065 L1727.3 1067 L1730.2 1068.9 L1733.1 1071 L1736 1073.1 L1738.9 1075.2 L1741.8 1077.4 L1744.7 1079.6 L1747.6 1081.9 L1750.5 1084.4 L1753.4 1086.9 L1756.4 1089.5 L1759.3 1092.2 L1762.2 1095.1 L1765.1 1098.1 L1768 1101.2 L1770.9 1104.5 L1773.8 1107.8 L1776.7 1111.3 L1779.6 1115 L1782.5 1118.7 L1785.4 1122.6 L1788.3 1126.5 L1791.2 1130.7 L1794.1 1135 L1797 1139.5 L1799.9 1144.3 L1802.8 1149.3 L1805.7 1154.7 L1808.6 1160.8 L1811.5 1168" fill="none" stroke="#5680CF" stroke-width="3" stroke-dasharray="3.6 4.4" stroke-dashoffset="-2"/>
<path d="M213 569.5 L226.2 569.8 L239.5 570.1 L252.7 570.4 L265.9 570.7 L279.2 571 L292.4 571.3 L305.6 571.6 L318.9 571.9 L332.1 572.2 L345.4 572.6 L358.6 572.9 L371.8 573.2 L385.1 573.5 L398.3 573.8 L411.5 574.1 L424.8 574.5 L438 574.8 L451.2 575.1 L464.5 575.4 L477.7 575.8 L490.9 576.1 L504.2 576.4 L517.4 576.8 L530.6 577.1 L543.9 577.4 L557.1 577.8 L570.3 578.1 L583.6 578.5 L596.8 578.8 L610.1 579.1 L623.3 579.5 L636.5 579.8 L649.8 580.2 L663 580.5 L676.2 580.9 L689.5 581.2 L702.7 581.6 L715.9 581.9 L729.2 582.3 L742.4 582.6 L755.6 583 L768.9 583.4 L782.1 583.7 L795.3 584.1 L808.6 584.5 L821.8 584.8 L835 585.2 L848.3 585.6 L861.5 586 L874.8 586.4 L888 586.7 L901.2 587.1 L914.5 587.5 L927.7 587.9 L940.9 588.3 L954.2 588.7 L967.4 589 L980.6 589.4 L993.9 589.8 L1007.1 590.2 L1020.3 590.6 L1033.6 590.9 L1046.8 591.3 L1060 591.6 L1073.3 591.9 L1086.5 592.3 L1099.7 592.6 L1113 592.9 L1126.2 593.2 L1139.5 593.6 L1152.7 593.9 L1165.9 594.3 L1179.2 594.6 L1192.4 595 L1205.6 595.4 L1218.9 595.8 L1232.1 596.3 L1245.3 596.7 L1258.6 597.2 L1271.8 597.8 L1285 598.3 L1298.3 598.9 L1311.5 599.6 L1324.7 600.4 L1338 601.4 L1351.2 602.5 L1364.4 603.6 L1377.7 604.9 L1390.9 606.3 L1404.2 608 L1417.4 609.9 L1430.6 612.1 L1443.9 614.7 L1457.1 617.8 L1470.3 621.3 L1483.6 625.2 L1496.8 629.6 L1510 635 L1523.3 640.9 L1536.5 647.5 L1549.7 654.6 L1563 662 L1576.2 670.5 L1589.4 680.9 L1602.7 693.5 L1615.9 708.7 L1629.1 727 L1642.4 745.5 L1655.6 768 L1668.9 792.4 L1682.1 818.3 L1695.3 846.8 L1708.6 877 L1721.8 909.9 L1735 941.5 L1748.3 975.6 L1761.5 1010.5 L1774.7 1048.5 L1788 1088.6 L1801.2 1129.8 L1814.5 1168" fill="none" stroke="#B0521A" stroke-width="4" stroke-linejoin="round"/>
<path d="M206.8 563.3L219.2 575.7M206.8 575.7L219.2 563.3" stroke="#B0521A" stroke-width="2.4" fill="none"/><path d="M220 563.6L232.4 576M220 576L232.4 563.6" stroke="#B0521A" stroke-width="2.4" fill="none"/><path d="M233.3 563.9L245.7 576.3M233.3 576.3L245.7 563.9" stroke="#B0521A" stroke-width="2.4" fill="none"/><path d="M246.5 564.2L258.9 576.6M246.5 576.6L258.9 564.2" stroke="#B0521A" stroke-width="2.4" fill="none"/><path d="M259.7 564.5L272.1 576.9M259.7 576.9L272.1 564.5" stroke="#B0521A" stroke-width="2.4" fill="none"/><path d="M273 564.8L285.4 577.2M273 577.2L285.4 564.8" stroke="#B0521A" stroke-width="2.4" fill="none"/><path d="M286.2 565.1L298.6 577.5M286.2 577.5L298.6 565.1" stroke="#B0521A" stroke-width="2.4" fill="none"/><path d="M299.4 565.4L311.8 577.8M299.4 577.8L311.8 565.4" stroke="#B0521A" stroke-width="2.4" fill="none"/><path d="M312.7 565.7L325.1 578.1M312.7 578.1L325.1 565.7" stroke="#B0521A" stroke-width="2.4" fill="none"/><path d="M325.9 566L338.3 578.4M325.9 578.4L338.3 566" stroke="#B0521A" stroke-width="2.4" fill="none"/><path d="M339.2 566.4L351.6 578.8M339.2 578.8L351.6 566.4" stroke="#B0521A" stroke-width="2.4" fill="none"/><path d="M352.4 566.7L364.8 579.1M352.4 579.1L364.8 566.7" stroke="#B0521A" stroke-width="2.4" fill="none"/><path d="M365.6 567L378 579.4M365.6 579.4L378 567" stroke="#B0521A" stroke-width="2.4" fill="none"/><path d="M378.9 567.3L391.3 579.7M378.9 579.7L391.3 567.3" stroke="#B0521A" stroke-width="2.4" fill="none"/><path d="M392.1 567.6L404.5 580M392.1 580L404.5 567.6" stroke="#B0521A" stroke-width="2.4" fill="none"/><path d="M405.3 567.9L417.7 580.3M405.3 580.3L417.7 567.9" stroke="#B0521A" stroke-width="2.4" fill="none"/><path d="M418.6 568.3L431 580.7M418.6 580.7L431 568.3" stroke="#B0521A" stroke-width="2.4" fill="none"/><path d="M431.8 568.6L444.2 581M431.8 581L444.2 568.6" stroke="#B0521A" stroke-width="2.4" fill="none"/><path d="M445 568.9L457.4 581.3M445 581.3L457.4 568.9" stroke="#B0521A" stroke-width="2.4" fill="none"/><path d="M458.3 569.2L470.7 581.6M458.3 581.6L470.7 569.2" stroke="#B0521A" stroke-width="2.4" fill="none"/><path d="M471.5 569.6L483.9 582M471.5 582L483.9 569.6" stroke="#B0521A" stroke-width="2.4" fill="none"/><path d="M484.7 569.9L497.1 582.3M484.7 582.3L497.1 569.9" stroke="#B0521A" stroke-width="2.4" fill="none"/><path d="M498 570.2L510.4 582.6M498 582.6L510.4 570.2" stroke="#B0521A" stroke-width="2.4" fill="none"/><path d="M511.2 570.6L523.6 583M511.2 583L523.6 570.6" stroke="#B0521A" stroke-width="2.4" fill="none"/><path d="M524.4 570.9L536.8 583.3M524.4 583.3L536.8 570.9" stroke="#B0521A" stroke-width="2.4" fill="none"/><path d="M537.7 571.2L550.1 583.6M537.7 583.6L550.1 571.2" stroke="#B0521A" stroke-width="2.4" fill="none"/><path d="M550.9 571.6L563.3 584M550.9 584L563.3 571.6" stroke="#B0521A" stroke-width="2.4" fill="none"/><path d="M564.1 571.9L576.5 584.3M564.1 584.3L576.5 571.9" stroke="#B0521A" stroke-width="2.4" fill="none"/><path d="M577.4 572.3L589.8 584.7M577.4 584.7L589.8 572.3" stroke="#B0521A" stroke-width="2.4" fill="none"/><path d="M590.6 572.6L603 585M590.6 585L603 572.6" stroke="#B0521A" stroke-width="2.4" fill="none"/><path d="M603.9 572.9L616.3 585.3M603.9 585.3L616.3 572.9" stroke="#B0521A" stroke-width="2.4" fill="none"/><path d="M617.1 573.3L629.5 585.7M617.1 585.7L629.5 573.3" stroke="#B0521A" stroke-width="2.4" fill="none"/><path d="M630.3 573.6L642.7 586M630.3 586L642.7 573.6" stroke="#B0521A" stroke-width="2.4" fill="none"/><path d="M643.6 574L656 586.4M643.6 586.4L656 574" stroke="#B0521A" stroke-width="2.4" fill="none"/><path d="M656.8 574.3L669.2 586.7M656.8 586.7L669.2 574.3" stroke="#B0521A" stroke-width="2.4" fill="none"/><path d="M670 574.7L682.4 587.1M670 587.1L682.4 574.7" stroke="#B0521A" stroke-width="2.4" fill="none"/><path d="M683.3 575L695.7 587.4M683.3 587.4L695.7 575" stroke="#B0521A" stroke-width="2.4" fill="none"/><path d="M696.5 575.4L708.9 587.8M696.5 587.8L708.9 575.4" stroke="#B0521A" stroke-width="2.4" fill="none"/><path d="M709.7 575.7L722.1 588.1M709.7 588.1L722.1 575.7" stroke="#B0521A" stroke-width="2.4" fill="none"/><path d="M723 576.1L735.4 588.5M723 588.5L735.4 576.1" stroke="#B0521A" stroke-width="2.4" fill="none"/><path d="M736.2 576.4L748.6 588.8M736.2 588.8L748.6 576.4" stroke="#B0521A" stroke-width="2.4" fill="none"/><path d="M749.4 576.8L761.8 589.2M749.4 589.2L761.8 576.8" stroke="#B0521A" stroke-width="2.4" fill="none"/><path d="M762.7 577.2L775.1 589.6M762.7 589.6L775.1 577.2" stroke="#B0521A" stroke-width="2.4" fill="none"/><path d="M775.9 577.5L788.3 589.9M775.9 589.9L788.3 577.5" stroke="#B0521A" stroke-width="2.4" fill="none"/><path d="M789.1 577.9L801.5 590.3M789.1 590.3L801.5 577.9" stroke="#B0521A" stroke-width="2.4" fill="none"/><path d="M802.4 578.3L814.8 590.7M802.4 590.7L814.8 578.3" stroke="#B0521A" stroke-width="2.4" fill="none"/><path d="M815.6 578.6L828 591M815.6 591L828 578.6" stroke="#B0521A" stroke-width="2.4" fill="none"/><path d="M828.8 579L841.2 591.4M828.8 591.4L841.2 579" stroke="#B0521A" stroke-width="2.4" fill="none"/><path d="M842.1 579.4L854.5 591.8M842.1 591.8L854.5 579.4" stroke="#B0521A" stroke-width="2.4" fill="none"/><path d="M855.3 579.8L867.7 592.2M855.3 592.2L867.7 579.8" stroke="#B0521A" stroke-width="2.4" fill="none"/><path d="M868.6 580.2L881 592.6M868.6 592.6L881 580.2" stroke="#B0521A" stroke-width="2.4" fill="none"/><path d="M881.8 580.5L894.2 592.9M881.8 592.9L894.2 580.5" stroke="#B0521A" stroke-width="2.4" fill="none"/><path d="M895 580.9L907.4 593.3M895 593.3L907.4 580.9" stroke="#B0521A" stroke-width="2.4" fill="none"/><path d="M908.3 581.3L920.7 593.7M908.3 593.7L920.7 581.3" stroke="#B0521A" stroke-width="2.4" fill="none"/><path d="M921.5 581.7L933.9 594.1M921.5 594.1L933.9 581.7" stroke="#B0521A" stroke-width="2.4" fill="none"/><path d="M934.7 582.1L947.1 594.5M934.7 594.5L947.1 582.1" stroke="#B0521A" stroke-width="2.4" fill="none"/><path d="M948 582.5L960.4 594.9M948 594.9L960.4 582.5" stroke="#B0521A" stroke-width="2.4" fill="none"/><path d="M961.2 582.8L973.6 595.2M961.2 595.2L973.6 582.8" stroke="#B0521A" stroke-width="2.4" fill="none"/><path d="M974.4 583.2L986.8 595.6M974.4 595.6L986.8 583.2" stroke="#B0521A" stroke-width="2.4" fill="none"/><path d="M987.7 583.6L1000.1 596M987.7 596L1000.1 583.6" stroke="#B0521A" stroke-width="2.4" fill="none"/><path d="M1000.9 584L1013.3 596.4M1000.9 596.4L1013.3 584" stroke="#B0521A" stroke-width="2.4" fill="none"/><path d="M1014.1 584.4L1026.5 596.8M1014.1 596.8L1026.5 584.4" stroke="#B0521A" stroke-width="2.4" fill="none"/><path d="M1027.4 584.7L1039.8 597.1M1027.4 597.1L1039.8 584.7" stroke="#B0521A" stroke-width="2.4" fill="none"/><path d="M1040.6 585.1L1053 597.5M1040.6 597.5L1053 585.1" stroke="#B0521A" stroke-width="2.4" fill="none"/><path d="M1053.8 585.4L1066.2 597.8M1053.8 597.8L1066.2 585.4" stroke="#B0521A" stroke-width="2.4" fill="none"/><path d="M1067.1 585.7L1079.5 598.1M1067.1 598.1L1079.5 585.7" stroke="#B0521A" stroke-width="2.4" fill="none"/><path d="M1080.3 586.1L1092.7 598.5M1080.3 598.5L1092.7 586.1" stroke="#B0521A" stroke-width="2.4" fill="none"/><path d="M1093.5 586.4L1105.9 598.8M1093.5 598.8L1105.9 586.4" stroke="#B0521A" stroke-width="2.4" fill="none"/><path d="M1106.8 586.7L1119.2 599.1M1106.8 599.1L1119.2 586.7" stroke="#B0521A" stroke-width="2.4" fill="none"/><path d="M1120 587L1132.4 599.4M1120 599.4L1132.4 587" stroke="#B0521A" stroke-width="2.4" fill="none"/><path d="M1133.3 587.4L1145.7 599.8M1133.3 599.8L1145.7 587.4" stroke="#B0521A" stroke-width="2.4" fill="none"/><path d="M1146.5 587.7L1158.9 600.1M1146.5 600.1L1158.9 587.7" stroke="#B0521A" stroke-width="2.4" fill="none"/><path d="M1159.7 588.1L1172.1 600.5M1159.7 600.5L1172.1 588.1" stroke="#B0521A" stroke-width="2.4" fill="none"/><path d="M1173 588.4L1185.4 600.8M1173 600.8L1185.4 588.4" stroke="#B0521A" stroke-width="2.4" fill="none"/><path d="M1186.2 588.8L1198.6 601.2M1186.2 601.2L1198.6 588.8" stroke="#B0521A" stroke-width="2.4" fill="none"/><path d="M1199.4 589.2L1211.8 601.6M1199.4 601.6L1211.8 589.2" stroke="#B0521A" stroke-width="2.4" fill="none"/><path d="M1212.7 589.6L1225.1 602M1212.7 602L1225.1 589.6" stroke="#B0521A" stroke-width="2.4" fill="none"/><path d="M1225.9 590.1L1238.3 602.5M1225.9 602.5L1238.3 590.1" stroke="#B0521A" stroke-width="2.4" fill="none"/><path d="M1239.1 590.5L1251.5 602.9M1239.1 602.9L1251.5 590.5" stroke="#B0521A" stroke-width="2.4" fill="none"/><path d="M1252.4 591L1264.8 603.4M1252.4 603.4L1264.8 591" stroke="#B0521A" stroke-width="2.4" fill="none"/><path d="M1265.6 591.6L1278 604M1265.6 604L1278 591.6" stroke="#B0521A" stroke-width="2.4" fill="none"/><path d="M1278.8 592.1L1291.2 604.5M1278.8 604.5L1291.2 592.1" stroke="#B0521A" stroke-width="2.4" fill="none"/><path d="M1292.1 592.7L1304.5 605.1M1292.1 605.1L1304.5 592.7" stroke="#B0521A" stroke-width="2.4" fill="none"/><path d="M1305.3 593.4L1317.7 605.8M1305.3 605.8L1317.7 593.4" stroke="#B0521A" stroke-width="2.4" fill="none"/><path d="M1318.5 594.2L1330.9 606.6M1318.5 606.6L1330.9 594.2" stroke="#B0521A" stroke-width="2.4" fill="none"/><path d="M1331.8 595.2L1344.2 607.6M1331.8 607.6L1344.2 595.2" stroke="#B0521A" stroke-width="2.4" fill="none"/><path d="M1345 596.3L1357.4 608.7M1345 608.7L1357.4 596.3" stroke="#B0521A" stroke-width="2.4" fill="none"/><path d="M1358.2 597.4L1370.6 609.8M1358.2 609.8L1370.6 597.4" stroke="#B0521A" stroke-width="2.4" fill="none"/><path d="M1371.5 598.7L1383.9 611.1M1371.5 611.1L1383.9 598.7" stroke="#B0521A" stroke-width="2.4" fill="none"/><path d="M1384.7 600.1L1397.1 612.5M1384.7 612.5L1397.1 600.1" stroke="#B0521A" stroke-width="2.4" fill="none"/><path d="M1398 601.8L1410.4 614.2M1398 614.2L1410.4 601.8" stroke="#B0521A" stroke-width="2.4" fill="none"/><path d="M1411.2 603.7L1423.6 616.1M1411.2 616.1L1423.6 603.7" stroke="#B0521A" stroke-width="2.4" fill="none"/><path d="M1424.4 605.9L1436.8 618.3M1424.4 618.3L1436.8 605.9" stroke="#B0521A" stroke-width="2.4" fill="none"/><path d="M1437.7 608.5L1450.1 620.9M1437.7 620.9L1450.1 608.5" stroke="#B0521A" stroke-width="2.4" fill="none"/><path d="M1450.9 611.6L1463.3 624M1450.9 624L1463.3 611.6" stroke="#B0521A" stroke-width="2.4" fill="none"/><path d="M1464.1 615.1L1476.5 627.5M1464.1 627.5L1476.5 615.1" stroke="#B0521A" stroke-width="2.4" fill="none"/><path d="M1477.4 619L1489.8 631.4M1477.4 631.4L1489.8 619" stroke="#B0521A" stroke-width="2.4" fill="none"/><path d="M1490.6 623.4L1503 635.8M1490.6 635.8L1503 623.4" stroke="#B0521A" stroke-width="2.4" fill="none"/><path d="M1503.8 628.8L1516.2 641.2M1503.8 641.2L1516.2 628.8" stroke="#B0521A" stroke-width="2.4" fill="none"/><path d="M1517.1 634.7L1529.5 647.1M1517.1 647.1L1529.5 634.7" stroke="#B0521A" stroke-width="2.4" fill="none"/><path d="M1530.3 641.3L1542.7 653.7M1530.3 653.7L1542.7 641.3" stroke="#B0521A" stroke-width="2.4" fill="none"/><path d="M1543.5 648.4L1555.9 660.8M1543.5 660.8L1555.9 648.4" stroke="#B0521A" stroke-width="2.4" fill="none"/><path d="M1556.8 655.8L1569.2 668.2M1556.8 668.2L1569.2 655.8" stroke="#B0521A" stroke-width="2.4" fill="none"/><path d="M1570 664.3L1582.4 676.7M1570 676.7L1582.4 664.3" stroke="#B0521A" stroke-width="2.4" fill="none"/><path d="M1583.2 674.7L1595.6 687.1M1583.2 687.1L1595.6 674.7" stroke="#B0521A" stroke-width="2.4" fill="none"/><path d="M1596.5 687.3L1608.9 699.7M1596.5 699.7L1608.9 687.3" stroke="#B0521A" stroke-width="2.4" fill="none"/><path d="M1609.7 702.5L1622.1 714.9M1609.7 714.9L1622.1 702.5" stroke="#B0521A" stroke-width="2.4" fill="none"/><path d="M1622.9 720.8L1635.3 733.2M1622.9 733.2L1635.3 720.8" stroke="#B0521A" stroke-width="2.4" fill="none"/><path d="M1636.2 739.3L1648.6 751.7M1636.2 751.7L1648.6 739.3" stroke="#B0521A" stroke-width="2.4" fill="none"/><path d="M1649.4 761.8L1661.8 774.2M1649.4 774.2L1661.8 761.8" stroke="#B0521A" stroke-width="2.4" fill="none"/><path d="M1662.7 786.2L1675.1 798.6M1662.7 798.6L1675.1 786.2" stroke="#B0521A" stroke-width="2.4" fill="none"/><path d="M1675.9 812.1L1688.3 824.5M1675.9 824.5L1688.3 812.1" stroke="#B0521A" stroke-width="2.4" fill="none"/><path d="M1689.1 840.6L1701.5 853M1689.1 853L1701.5 840.6" stroke="#B0521A" stroke-width="2.4" fill="none"/><path d="M1702.4 870.8L1714.8 883.2M1702.4 883.2L1714.8 870.8" stroke="#B0521A" stroke-width="2.4" fill="none"/><path d="M1715.6 903.7L1728 916.1M1715.6 916.1L1728 903.7" stroke="#B0521A" stroke-width="2.4" fill="none"/><path d="M1728.8 935.3L1741.2 947.7M1728.8 947.7L1741.2 935.3" stroke="#B0521A" stroke-width="2.4" fill="none"/><path d="M1742.1 969.4L1754.5 981.8M1742.1 981.8L1754.5 969.4" stroke="#B0521A" stroke-width="2.4" fill="none"/><path d="M1755.3 1004.3L1767.7 1016.7M1755.3 1016.7L1767.7 1004.3" stroke="#B0521A" stroke-width="2.4" fill="none"/><path d="M1768.5 1042.3L1780.9 1054.7M1768.5 1054.7L1780.9 1042.3" stroke="#B0521A" stroke-width="2.4" fill="none"/><path d="M1781.8 1082.4L1794.2 1094.8M1781.8 1094.8L1794.2 1082.4" stroke="#B0521A" stroke-width="2.4" fill="none"/><path d="M1795 1123.6L1807.4 1136M1795 1136L1807.4 1123.6" stroke="#B0521A" stroke-width="2.4" fill="none"/><path d="M1808.3 1161.8L1820.7 1174.2M1808.3 1174.2L1820.7 1161.8" stroke="#B0521A" stroke-width="2.4" fill="none"/>
</g>
<rect x="402" y="68" width="1246" height="244" fill="#fff" stroke="#747474" stroke-width="2"/>
<rect x="404" y="70" width="1242" height="240" fill="none" stroke="#2e2e2e" stroke-width="2"/>
<rect x="405" y="71" width="1240" height="1.5" fill="#e8e8e8"/><rect x="405" y="71" width="1.5" height="238" fill="#e8e8e8"/>
<rect x="405" y="307" width="1240" height="2" fill="#c8c8c8"/><rect x="1643.5" y="71" width="1.5" height="236" fill="#e8e8e8"/>
<g filter="url(#soft)">
<path d="M485 99.3L556.5 99.3" stroke="#5B9BD5" stroke-width="4" fill="none"/>
<rect x="513.8" y="92.3" width="14" height="14" fill="#5B9BD5"/>
<path d="M485 160.3L556.5 160.3" stroke="#A5A5A5" stroke-width="4" fill="none"/>
<path d="M520.8 153.3L527.8 167.3L513.8 167.3Z" fill="#A5A5A5"/>
<path d="M485 220.2L556.5 220.2" stroke="#FFC000" stroke-width="4" fill="none"/>
<path d="M520.8 213.2L526.2 220.2L520.8 227.2L515.2 220.2Z" fill="#FFC000"/>
<path d="M485 280.2L556.5 280.2" stroke="#5680CF" stroke-width="3" stroke-dasharray="3.6 4.4" fill="none"/>
<path d="M1106 99.3L1177.5 99.3" stroke="#ED7D31" stroke-width="4" fill="none"/>
<circle cx="1141.8" cy="99.3" r="6" fill="#ED7D31"/>
<path d="M1106 160.3L1165.5 160.3" stroke="#2E5F8E" stroke-width="3.6" stroke-dasharray="15 12 4 12" fill="none"/>
<path d="M1106 220.2L1177.5 220.2" stroke="#70AD47" stroke-width="4" fill="none"/>
<path d="M1135.8 214.2L1147.8 226.2M1135.8 226.2L1147.8 214.2M1141.8 214.2L1141.8 226.2" stroke="#70AD47" stroke-width="2.2" fill="none"/>
<path d="M1106 280.2L1177.5 280.2" stroke="#B0521A" stroke-width="4" fill="none"/>
<path d="M1135.8 274.2L1147.8 286.2M1135.8 286.2L1147.8 274.2" stroke="#B0521A" stroke-width="2.4" fill="none"/>
<text x="564.5" y="113.6" font-family="Liberation Sans, sans-serif" font-weight="bold" font-size="39" textLength="325.5" lengthAdjust="spacingAndGlyphs" fill="#111">Initial Experiment</text>
<text x="564.5" y="173.6" font-family="Liberation Sans, sans-serif" font-weight="bold" font-size="39" textLength="380" lengthAdjust="spacingAndGlyphs" fill="#111">Cut_25% Experiment</text>
<text x="564.5" y="233.3" font-family="Liberation Sans, sans-serif" font-weight="bold" font-size="39" textLength="380" lengthAdjust="spacingAndGlyphs" fill="#111">Cut_50% Experiment</text>
<text x="564.5" y="293.3" font-family="Liberation Sans, sans-serif" font-weight="bold" font-size="39" textLength="380" lengthAdjust="spacingAndGlyphs" fill="#111">Cut_75% Experiment</text>
<text x="1185" y="113.6" font-family="Liberation Sans, sans-serif" font-weight="bold" font-size="39" textLength="196.5" lengthAdjust="spacingAndGlyphs" fill="#111">Simulation</text>
<text x="1185" y="173.6" font-family="Liberation Sans, sans-serif" font-weight="bold" font-size="39" textLength="368.5" lengthAdjust="spacingAndGlyphs" fill="#111">Cut_25% Simulation</text>
<text x="1185" y="233.3" font-family="Liberation Sans, sans-serif" font-weight="bold" font-size="39" textLength="368.5" lengthAdjust="spacingAndGlyphs" fill="#111">Cut_50% Simulation</text>
<text x="1185" y="293.3" font-family="Liberation Sans, sans-serif" font-weight="bold" font-size="39" textLength="368.5" lengthAdjust="spacingAndGlyphs" fill="#111">Cut_75% Simulation</text>
<text x="162" y="391.9" font-family="Liberation Sans, sans-serif" font-weight="bold" font-size="50" text-anchor="end" fill="#111">8</text>
<text x="162" y="590" font-family="Liberation Sans, sans-serif" font-weight="bold" font-size="50" text-anchor="end" fill="#111">6</text>
<text x="162" y="788.4" font-family="Liberation Sans, sans-serif" font-weight="bold" font-size="50" text-anchor="end" fill="#111">4</text>
<text x="162" y="987.2" font-family="Liberation Sans, sans-serif" font-weight="bold" font-size="50" text-anchor="end" fill="#111">2</text>
<text x="162" y="1186" font-family="Liberation Sans, sans-serif" font-weight="bold" font-size="50" text-anchor="end" fill="#111">0</text>
<text x="212.6" y="1248.3" font-family="Liberation Sans, sans-serif" font-weight="bold" font-size="45" text-anchor="middle" fill="#111">0</text>
<text x="477.4" y="1248.3" font-family="Liberation Sans, sans-serif" font-weight="bold" font-size="45" text-anchor="middle" fill="#111">0.1</text>
<text x="742.1" y="1248.3" font-family="Liberation Sans, sans-serif" font-weight="bold" font-size="45" text-anchor="middle" fill="#111">0.2</text>
<text x="1006.9" y="1248.3" font-family="Liberation Sans, sans-serif" font-weight="bold" font-size="45" text-anchor="middle" fill="#111">0.3</text>
<text x="1271.6" y="1248.3" font-family="Liberation Sans, sans-serif" font-weight="bold" font-size="45" text-anchor="middle" fill="#111">0.4</text>
<text x="1536.3" y="1248.3" font-family="Liberation Sans, sans-serif" font-weight="bold" font-size="45" text-anchor="middle" fill="#111">0.5</text>
<text x="1801.1" y="1248.3" font-family="Liberation Sans, sans-serif" font-weight="bold" font-size="45" text-anchor="middle" fill="#111">0.6</text>
<text x="926.5" y="1333" font-family="Liberation Sans, sans-serif" font-weight="bold" font-size="58" textLength="290" lengthAdjust="spacingAndGlyphs" fill="#111">Voltage[V]</text>
<text transform="translate(91,823) rotate(-90)" font-family="Liberation Sans, sans-serif" font-weight="bold" font-size="58" textLength="289" lengthAdjust="spacingAndGlyphs" fill="#111">Current[A]</text>
</g>
</svg>
</body></html>
